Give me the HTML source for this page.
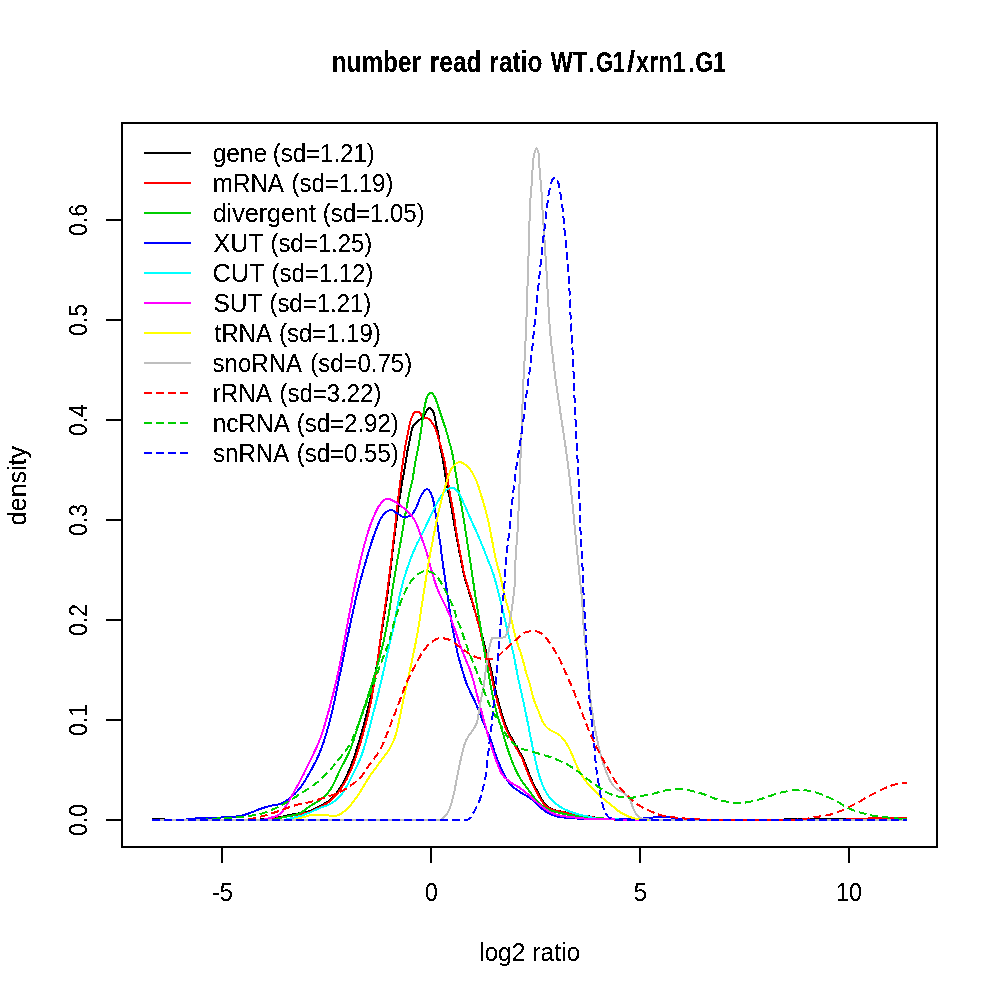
<!DOCTYPE html>
<html><head><meta charset="utf-8"><title>number read ratio WT.G1/xrn1.G1</title>
<style>
html,body{margin:0;padding:0;background:#fff;}
body{width:1000px;height:1000px;overflow:hidden;font-family:"Liberation Sans",sans-serif;}
svg{display:block;}
text{font-family:"Liberation Sans",sans-serif;fill:#000;}
</style></head><body>
<svg width="1000" height="1000" viewBox="0 0 1000 1000">
<defs><filter id="th" x="0" y="0" width="1000" height="1000" filterUnits="userSpaceOnUse" color-interpolation-filters="sRGB"><feComponentTransfer><feFuncA type="discrete" tableValues="0 0 0 0 0 0 0 0 0 1 1 1 1 1 1 1 1 1 1 1"/></feComponentTransfer></filter></defs>
<rect x="0" y="0" width="1000" height="1000" fill="#ffffff"/>

<g fill="none" stroke-width="2" stroke-linejoin="round" stroke-linecap="butt" shape-rendering="crispEdges">
<polyline points="152.0,819.0 153.5,819.0 155.0,819.0 156.5,819.0 158.0,819.0 159.5,819.0 161.0,819.0 162.5,819.2 164.0,819.4 165.5,819.6 167.0,819.8 168.5,819.9 170.0,820.0 171.5,820.0 173.0,820.0 174.5,820.0 176.0,820.0 177.5,820.0 179.0,820.0 180.5,820.0 182.0,820.0 183.5,820.0 185.0,820.0 186.5,820.0 188.0,820.0 189.5,820.0 191.0,820.0 192.5,820.0 194.0,820.0 195.5,820.0 197.0,820.0 198.5,820.0 200.0,820.0 201.5,820.0 203.0,820.0 204.5,820.0 206.0,820.0 207.5,820.0 209.0,820.0 210.5,820.0 212.0,820.0 213.5,820.0 215.1,820.0 216.6,820.0 218.1,820.0 219.6,820.0 221.1,820.0 222.6,820.0 224.1,820.0 225.6,820.0 227.1,820.0 228.6,820.0 230.1,820.0 231.6,820.0 233.1,820.0 234.6,820.0 236.1,820.0 237.6,820.0 239.1,820.0 240.6,820.0 242.1,820.0 243.6,820.0 245.1,820.0 246.6,820.0 248.1,820.0 249.6,820.0 251.1,820.0 252.6,820.0 254.1,819.9 255.6,819.8 257.1,819.8 258.6,819.7 260.1,819.5 261.6,819.4 263.1,819.2 264.6,819.1 266.1,818.9 267.6,818.7 269.1,818.5 270.6,818.3 272.1,818.1 273.6,817.9 275.0,817.7 276.5,817.5 278.0,817.3 279.5,817.1 281.0,816.9 282.5,816.6 283.9,816.3 285.4,816.0 286.9,815.7 288.3,815.3 289.8,815.0 291.3,814.7 292.8,814.4 294.2,814.2 295.7,813.9 297.2,813.6 298.7,813.3 300.1,813.0 301.6,812.7 303.1,812.4 304.6,812.2 306.1,811.9 307.6,811.6 309.0,811.3 310.4,810.9 311.8,810.4 313.2,809.8 314.5,809.1 315.9,808.4 317.2,807.6 318.5,806.8 319.8,806.1 321.1,805.4 322.5,804.7 323.8,804.0 325.2,803.2 326.5,802.4 327.7,801.7 329.0,800.8 330.1,799.9 331.2,799.0 332.3,797.9 333.3,796.8 334.3,795.7 335.3,794.5 336.3,793.3 337.2,792.1 338.1,790.9 338.9,789.6 339.8,788.4 340.6,787.1 341.3,785.9 342.1,784.6 342.8,783.3 343.5,782.0 344.3,780.6 344.9,779.3 345.6,777.9 346.3,776.6 346.9,775.2 347.5,773.8 348.1,772.4 348.7,771.0 349.3,769.6 349.9,768.3 350.5,766.9 351.0,765.5 351.5,764.1 352.1,762.7 352.6,761.3 353.1,759.9 353.6,758.5 354.1,757.0 354.6,755.6 355.0,754.2 355.5,752.7 356.0,751.3 356.4,749.9 356.9,748.4 357.3,747.0 357.7,745.6 358.2,744.1 358.6,742.7 359.0,741.2 359.5,739.8 359.9,738.3 360.3,736.9 360.7,735.5 361.2,734.0 361.6,732.6 362.0,731.1 362.4,729.7 362.8,728.2 363.2,726.8 363.6,725.4 364.0,723.9 364.4,722.4 364.8,721.0 365.2,719.5 365.6,718.1 365.9,716.6 366.3,715.2 366.7,713.7 367.1,712.3 367.4,710.8 367.8,709.3 368.1,707.9 368.5,706.4 368.8,705.0 369.2,703.5 369.5,702.0 369.9,700.6 370.2,699.1 370.5,697.7 370.9,696.2 371.2,694.7 371.5,693.3 371.8,691.8 372.1,690.3 372.4,688.8 372.7,687.4 373.0,685.9 373.3,684.4 373.6,682.9 373.9,681.5 374.2,680.0 374.5,678.5 374.7,677.0 375.0,675.6 375.3,674.1 375.5,672.6 375.8,671.1 376.1,669.6 376.3,668.2 376.6,666.7 376.8,665.2 377.0,663.7 377.3,662.2 377.5,660.8 377.7,659.3 378.0,657.8 378.2,656.3 378.4,654.8 378.6,653.3 378.8,651.8 379.1,650.4 379.3,648.9 379.5,647.4 379.7,645.9 379.9,644.4 380.1,642.9 380.3,641.4 380.6,639.9 380.8,638.5 381.0,637.0 381.2,635.5 381.4,634.0 381.6,632.5 381.8,631.0 382.1,629.5 382.3,628.0 382.5,626.6 382.7,625.1 383.0,623.6 383.2,622.1 383.4,620.6 383.7,619.1 383.9,617.7 384.1,616.2 384.4,614.7 384.6,613.2 384.8,611.7 385.0,610.2 385.3,608.7 385.5,607.3 385.7,605.8 386.0,604.3 386.2,602.8 386.4,601.3 386.6,599.8 386.8,598.3 387.0,596.9 387.3,595.4 387.5,593.9 387.7,592.4 387.9,590.9 388.1,589.4 388.3,587.9 388.5,586.4 388.7,585.0 388.8,583.5 389.0,582.0 389.2,580.5 389.4,579.0 389.6,577.5 389.8,576.0 389.9,574.5 390.1,573.0 390.3,571.5 390.5,570.0 390.6,568.5 390.8,567.1 391.0,565.6 391.1,564.1 391.3,562.6 391.5,561.1 391.7,559.6 391.8,558.1 392.0,556.6 392.2,555.1 392.3,553.6 392.5,552.1 392.7,550.6 392.9,549.1 393.1,547.7 393.2,546.2 393.4,544.7 393.6,543.2 393.8,541.7 394.0,540.2 394.2,538.7 394.4,537.2 394.5,535.7 394.7,534.2 394.9,532.7 395.1,531.3 395.3,529.8 395.5,528.3 395.7,526.8 395.9,525.3 396.1,523.8 396.3,522.3 396.5,520.8 396.7,519.3 396.9,517.9 397.1,516.4 397.3,514.9 397.5,513.4 397.7,511.9 397.9,510.4 398.1,508.9 398.4,507.4 398.6,505.9 398.8,504.5 399.0,503.0 399.2,501.5 399.4,500.0 399.6,498.5 399.8,497.0 400.1,495.5 400.3,494.1 400.5,492.6 400.7,491.1 401.0,489.6 401.2,488.1 401.4,486.6 401.6,485.1 401.9,483.7 402.1,482.2 402.4,480.7 402.6,479.2 402.9,477.7 403.2,476.3 403.5,474.8 403.8,473.3 404.0,471.8 404.3,470.4 404.5,468.9 404.8,467.4 405.0,465.9 405.3,464.4 405.5,462.9 405.8,461.5 406.0,460.0 406.2,458.5 406.5,457.0 406.7,455.5 407.0,454.0 407.2,452.6 407.4,451.1 407.7,449.6 408.0,448.1 408.3,446.7 408.6,445.2 408.9,443.7 409.3,442.3 409.6,440.8 409.9,439.3 410.2,437.9 410.5,436.4 410.7,434.9 411.0,433.4 411.3,431.9 411.6,430.4 412.0,429.0 412.5,427.6 413.2,426.2 414.0,425.0 414.9,423.8 416.0,422.8 417.1,421.8 418.3,420.8 419.5,419.8 420.7,418.9 421.9,418.0 423.0,417.0 423.8,415.8 424.6,414.5 425.3,413.2 426.1,411.9 426.9,410.4 427.8,408.9 428.8,408.0 430.0,408.3 431.3,409.3 432.3,410.4 433.1,411.7 433.7,413.1 434.2,414.6 434.5,416.0 434.8,417.5 435.1,419.0 435.4,420.5 435.7,421.9 436.0,423.4 436.3,424.9 436.6,426.3 437.0,427.8 437.3,429.3 437.6,430.7 437.9,432.2 438.2,433.7 438.5,435.2 438.8,436.6 439.0,438.1 439.2,439.6 439.4,441.1 439.6,442.6 439.7,444.1 439.9,445.6 440.2,447.0 440.5,448.5 440.8,450.0 441.2,451.4 441.5,452.9 441.9,454.4 442.2,455.8 442.4,457.3 442.7,458.8 442.9,460.3 443.2,461.8 443.4,463.3 443.6,464.7 443.9,466.2 444.1,467.7 444.3,469.2 444.6,470.7 444.8,472.2 445.0,473.7 445.2,475.1 445.5,476.6 445.7,478.1 445.9,479.6 446.2,481.1 446.5,482.5 446.7,484.0 447.0,485.5 447.3,487.0 447.6,488.4 447.9,489.9 448.2,491.4 448.6,492.8 448.9,494.3 449.2,495.8 449.5,497.3 449.8,498.7 450.0,500.2 450.3,501.7 450.6,503.2 450.9,504.6 451.1,506.1 451.4,507.6 451.6,509.1 451.9,510.6 452.2,512.0 452.4,513.5 452.7,515.0 452.9,516.5 453.2,518.0 453.4,519.4 453.7,520.9 453.9,522.4 454.2,523.9 454.5,525.4 454.7,526.8 455.0,528.3 455.2,529.8 455.5,531.3 455.8,532.8 456.0,534.2 456.3,535.7 456.6,537.2 456.9,538.7 457.2,540.1 457.4,541.6 457.7,543.1 458.0,544.6 458.3,546.0 458.6,547.5 458.9,549.0 459.1,550.5 459.4,551.9 459.7,553.4 460.0,554.9 460.3,556.4 460.6,557.8 460.9,559.3 461.2,560.8 461.4,562.3 461.7,563.8 462.0,565.2 462.2,566.7 462.5,568.2 462.8,569.7 463.1,571.1 463.4,572.6 463.8,574.1 464.1,575.5 464.5,577.0 464.9,578.4 465.3,579.8 465.8,581.3 466.2,582.7 466.6,584.2 467.1,585.6 467.5,587.0 467.9,588.5 468.4,589.9 468.8,591.4 469.3,592.8 469.7,594.2 470.2,595.7 470.6,597.1 471.1,598.5 471.5,600.0 471.9,601.4 472.4,602.8 472.8,604.3 473.2,605.7 473.7,607.2 474.1,608.6 474.5,610.0 474.9,611.5 475.4,612.9 475.8,614.4 476.2,615.8 476.7,617.2 477.1,618.7 477.6,620.1 478.0,621.5 478.4,623.0 478.9,624.4 479.3,625.9 479.7,627.3 480.1,628.7 480.6,630.2 481.0,631.6 481.4,633.1 481.8,634.5 482.1,636.0 482.5,637.4 482.9,638.9 483.3,640.3 483.7,641.8 484.1,643.2 484.4,644.7 484.8,646.2 485.2,647.6 485.5,649.1 485.9,650.5 486.2,652.0 486.6,653.5 487.0,654.9 487.4,656.4 487.8,657.8 488.2,659.2 488.6,660.7 489.1,662.1 489.5,663.6 489.9,665.0 490.3,666.4 490.7,667.9 491.1,669.4 491.4,670.8 491.8,672.3 492.1,673.7 492.4,675.2 492.7,676.7 493.0,678.2 493.3,679.6 493.5,681.1 493.8,682.6 494.1,684.1 494.4,685.5 494.7,687.0 495.1,688.5 495.4,689.9 495.7,691.4 496.1,692.9 496.4,694.3 496.8,695.8 497.2,697.2 497.6,698.7 497.9,700.1 498.3,701.6 498.7,703.0 499.1,704.5 499.5,705.9 499.9,707.4 500.4,708.8 500.8,710.3 501.2,711.7 501.6,713.1 502.1,714.6 502.5,716.0 503.0,717.5 503.4,718.9 503.9,720.3 504.4,721.8 504.9,723.2 505.4,724.6 505.9,726.0 506.4,727.4 507.0,728.8 507.6,730.1 508.3,731.5 508.9,732.8 509.6,734.2 510.3,735.5 511.0,736.8 511.8,738.2 512.5,739.5 513.2,740.8 513.9,742.1 514.7,743.4 515.4,744.7 516.2,746.0 517.0,747.3 517.7,748.6 518.4,749.9 519.2,751.2 519.9,752.5 520.7,753.8 521.4,755.1 522.2,756.5 522.8,757.8 523.5,759.1 524.1,760.5 524.6,761.9 525.2,763.3 525.7,764.7 526.2,766.1 526.7,767.6 527.2,769.0 527.8,770.4 528.3,771.8 528.9,773.2 529.4,774.6 530.0,776.0 530.6,777.3 531.2,778.7 531.8,780.1 532.4,781.5 533.0,782.8 533.7,784.2 534.4,785.5 535.0,786.9 535.7,788.2 536.4,789.5 537.1,790.9 537.8,792.2 538.5,793.5 539.2,794.9 539.9,796.2 540.6,797.6 541.3,798.9 542.1,800.2 543.0,801.4 543.8,802.6 544.8,803.8 545.8,804.9 546.9,806.0 548.1,807.0 549.3,807.8 550.6,808.4 551.9,809.0 553.4,809.6 554.8,810.1 556.3,810.5 557.7,810.9 559.2,811.2 560.7,811.5 562.1,811.8 563.6,812.1 565.1,812.4 566.6,812.7 568.0,812.9 569.5,813.2 571.0,813.5 572.5,813.8 574.0,814.1 575.4,814.3 576.9,814.6 578.4,814.8 579.9,815.1 581.4,815.3 582.9,815.5 584.3,815.7 585.8,815.9 587.3,816.1 588.8,816.4 590.3,816.6 591.8,816.8 593.2,817.1 594.7,817.4 596.2,817.8 597.7,818.0 599.1,818.3 600.6,818.5 602.1,818.6 603.6,818.7 605.1,818.8 606.6,818.9 608.1,819.0 609.6,819.1 611.1,819.2 612.6,819.2 614.1,819.3 615.6,819.4 617.1,819.5 618.6,819.5 620.1,819.6 621.6,819.6 623.1,819.7 624.6,819.8 626.1,819.8 627.6,819.8 629.1,819.9 630.6,819.9 632.1,819.9 633.6,820.0 635.1,820.0 636.7,820.0 638.2,820.0 639.7,820.0 641.2,820.0 642.7,820.0 644.2,820.0 645.7,820.0 647.2,820.0 648.7,820.0 650.2,820.0 651.7,820.0 653.2,820.0 654.7,820.0 656.2,820.0 657.7,820.0 659.2,820.0 660.7,820.0 662.2,820.0 663.7,820.0 665.2,820.0 666.7,820.0 668.2,820.0 669.7,820.0 671.2,820.0 672.7,820.0 674.2,820.0 675.7,820.0 677.2,820.0 678.7,820.0 680.3,820.0 681.8,820.0 683.3,820.0 684.8,820.0 686.3,820.0 687.8,820.0 689.3,820.0 690.8,820.0 692.3,820.0 693.8,820.0 695.3,820.0 696.8,820.0 698.3,820.0 699.8,820.0 701.3,820.0 702.8,820.0 704.3,820.0 705.8,820.0 707.3,820.0 708.8,820.0 710.3,820.0 711.8,820.0 713.4,820.0 714.9,820.0 716.4,820.0 717.9,820.0 719.4,820.0 720.9,820.0 722.4,820.0 723.9,820.0 725.4,820.0 726.9,820.0 728.4,820.0 729.9,820.0 731.4,820.0 732.9,820.0 734.4,820.0 735.9,820.0 737.4,820.0 738.9,820.0 740.4,820.0 741.9,820.0 743.4,820.0 744.9,820.0 746.4,820.0 747.9,820.0 749.4,820.0 750.9,820.0 752.4,820.0 753.9,820.0 755.4,820.0 756.9,820.0 758.4,820.0 759.9,820.0 761.4,820.0 762.9,820.0 764.4,820.0 765.9,820.0 767.4,820.0 768.9,820.0 770.4,820.0 771.9,820.0 773.4,820.0 774.9,820.0 776.4,820.0 777.9,820.0 779.4,820.0 780.9,820.0 782.4,819.8 783.8,819.5 785.3,819.3 786.8,819.1 788.3,819.0 789.8,819.0 791.3,819.0 792.8,819.0 794.3,819.0 795.8,819.0 797.3,819.0 798.8,819.0 800.3,819.0 801.8,819.0 803.3,819.0 804.8,819.0 806.3,819.0 807.8,819.0 809.3,819.0 810.8,819.0 812.3,819.0 813.7,819.0 815.2,819.0 816.7,819.0 818.2,819.0 819.7,819.0 821.2,819.0 822.7,819.0 824.2,819.0 825.7,819.0 827.2,819.0 828.7,819.0 830.2,819.0 831.7,819.0 833.2,819.0 834.7,819.0 836.2,819.0 837.7,819.0 839.2,819.0 840.7,819.0 842.2,819.0 843.7,819.0 845.2,819.0 846.7,819.0 848.2,819.0 849.7,819.0 851.2,819.0 852.7,819.0 854.2,819.0 855.7,819.0 857.2,819.0 858.7,819.0 860.2,819.0 861.8,819.0 863.3,819.0 864.8,819.0 866.3,819.0 867.8,819.0 869.3,819.0 870.8,819.0 872.3,819.0 873.8,819.0 875.3,819.0 876.8,819.0 878.3,819.0 879.8,819.0 881.3,819.0 882.8,819.0 884.3,819.0 885.8,819.0 887.4,819.0 888.9,819.0 890.4,819.0 891.9,819.0 893.4,819.0 894.9,819.0 896.4,819.0 897.9,819.0 899.4,819.0 901.0,819.0 902.5,819.0 904.0,819.0 905.5,819.0 907.0,819.0" stroke="#000000"/>
<polyline points="152.0,820.0 153.5,820.0 155.0,820.0 156.5,820.0 158.0,820.0 159.6,820.0 161.1,820.0 162.6,820.0 164.1,820.0 165.6,820.0 167.1,820.0 168.6,820.0 170.1,820.0 171.6,820.0 173.1,820.0 174.7,820.0 176.2,820.0 177.7,820.0 179.2,820.0 180.7,820.0 182.2,820.0 183.7,820.0 185.2,820.0 186.7,820.0 188.2,820.0 189.7,820.0 191.2,820.0 192.7,820.0 194.2,820.0 195.7,820.0 197.2,820.0 198.7,820.0 200.2,820.0 201.7,820.0 203.2,820.0 204.8,820.0 206.3,820.0 207.8,820.0 209.3,820.0 210.8,820.0 212.3,820.0 213.8,820.0 215.3,820.0 216.8,820.0 218.3,820.0 219.8,820.0 221.3,820.0 222.8,820.0 224.3,820.0 225.8,820.0 227.3,820.0 228.8,820.0 230.3,820.0 231.8,820.0 233.2,820.0 234.7,820.0 236.2,820.0 237.7,820.0 239.2,820.0 240.7,820.0 242.2,820.0 243.7,820.0 245.2,820.0 246.7,820.0 248.2,820.0 249.7,820.0 251.2,820.0 252.7,820.0 254.2,820.0 255.7,820.0 257.2,820.0 258.7,820.0 260.2,820.0 261.7,820.0 263.2,819.9 264.7,819.8 266.2,819.7 267.6,819.6 269.1,819.4 270.6,819.3 272.1,819.1 273.6,818.8 275.1,818.6 276.6,818.4 278.1,818.1 279.6,817.9 281.1,817.6 282.5,817.3 284.0,817.0 285.5,816.8 287.0,816.5 288.5,816.3 290.0,816.0 291.4,815.7 292.9,815.5 294.4,815.2 295.9,814.9 297.3,814.6 298.8,814.2 300.3,813.9 301.8,813.7 303.3,813.4 304.8,813.1 306.2,812.9 307.7,812.6 309.2,812.2 310.6,811.8 311.9,811.3 313.3,810.7 314.7,810.0 316.0,809.3 317.3,808.5 318.6,807.8 319.9,807.0 321.3,806.3 322.6,805.6 323.9,804.9 325.3,804.1 326.6,803.4 327.8,802.6 329.1,801.7 330.2,800.8 331.3,799.9 332.5,798.9 333.5,797.8 334.6,796.7 335.6,795.6 336.6,794.4 337.6,793.2 338.5,792.0 339.4,790.8 340.3,789.6 341.1,788.4 341.9,787.2 342.7,785.9 343.5,784.6 344.3,783.3 345.0,782.0 345.8,780.7 346.5,779.3 347.2,778.0 347.8,776.6 348.5,775.3 349.1,773.9 349.8,772.5 350.4,771.2 350.9,769.8 351.5,768.4 352.1,767.1 352.6,765.7 353.2,764.3 353.7,762.9 354.2,761.4 354.8,760.0 355.3,758.6 355.8,757.2 356.2,755.7 356.7,754.3 357.2,752.9 357.7,751.4 358.1,750.0 358.6,748.6 359.0,747.1 359.5,745.7 359.9,744.3 360.4,742.8 360.8,741.4 361.2,740.0 361.6,738.5 362.1,737.1 362.5,735.6 362.9,734.2 363.3,732.8 363.7,731.3 364.1,729.9 364.5,728.4 364.9,727.0 365.3,725.5 365.7,724.0 366.1,722.6 366.5,721.1 366.8,719.7 367.2,718.2 367.6,716.7 367.9,715.3 368.3,713.8 368.6,712.4 368.9,710.9 369.3,709.4 369.6,708.0 369.9,706.5 370.2,705.0 370.5,703.6 370.8,702.1 371.1,700.6 371.4,699.2 371.7,697.7 371.9,696.2 372.2,694.7 372.5,693.2 372.8,691.8 373.0,690.3 373.3,688.8 373.5,687.3 373.8,685.8 374.0,684.4 374.3,682.9 374.5,681.4 374.8,679.9 375.0,678.4 375.2,676.9 375.5,675.4 375.7,674.0 375.9,672.5 376.2,671.0 376.4,669.5 376.6,668.0 376.8,666.5 377.0,665.0 377.2,663.6 377.4,662.1 377.6,660.6 377.8,659.1 378.0,657.6 378.2,656.1 378.4,654.6 378.6,653.1 378.8,651.6 379.0,650.2 379.2,648.7 379.4,647.2 379.6,645.7 379.8,644.2 380.0,642.7 380.2,641.2 380.4,639.7 380.6,638.2 380.8,636.7 381.0,635.3 381.2,633.8 381.4,632.3 381.6,630.8 381.8,629.3 382.0,627.8 382.2,626.3 382.4,624.8 382.7,623.4 382.9,621.9 383.1,620.4 383.3,618.9 383.5,617.4 383.8,615.9 384.0,614.4 384.2,612.9 384.4,611.5 384.6,610.0 384.8,608.5 385.1,607.0 385.3,605.5 385.5,604.0 385.7,602.5 385.9,601.1 386.1,599.6 386.4,598.1 386.6,596.6 386.8,595.1 387.0,593.6 387.2,592.1 387.4,590.6 387.6,589.1 387.8,587.7 388.0,586.2 388.2,584.7 388.4,583.2 388.6,581.7 388.7,580.2 388.9,578.7 389.1,577.2 389.3,575.7 389.5,574.2 389.7,572.8 389.9,571.3 390.0,569.8 390.2,568.3 390.4,566.8 390.6,565.3 390.8,563.8 390.9,562.3 391.1,560.8 391.3,559.3 391.5,557.8 391.6,556.3 391.8,554.9 392.0,553.4 392.2,551.9 392.3,550.4 392.5,548.9 392.7,547.4 392.9,545.9 393.0,544.4 393.2,542.9 393.4,541.4 393.5,539.9 393.7,538.4 393.9,536.9 394.1,535.4 394.2,534.0 394.4,532.5 394.6,531.0 394.8,529.5 394.9,528.0 395.1,526.5 395.3,525.0 395.4,523.5 395.6,522.0 395.8,520.5 395.9,519.0 396.1,517.5 396.3,516.0 396.4,514.5 396.6,513.1 396.8,511.6 396.9,510.1 397.1,508.6 397.3,507.1 397.4,505.6 397.6,504.1 397.8,502.6 397.9,501.1 398.1,499.6 398.3,498.1 398.5,496.6 398.6,495.1 398.8,493.6 399.0,492.2 399.2,490.7 399.3,489.2 399.5,487.7 399.7,486.2 399.9,484.7 400.1,483.2 400.3,481.7 400.5,480.2 400.7,478.7 400.8,477.2 401.0,475.8 401.2,474.3 401.4,472.8 401.6,471.3 401.8,469.8 402.0,468.3 402.2,466.8 402.5,465.3 402.7,463.8 402.9,462.4 403.1,460.9 403.3,459.4 403.6,457.9 403.8,456.4 404.0,454.9 404.2,453.4 404.4,452.0 404.6,450.5 404.9,449.0 405.1,447.5 405.3,446.0 405.6,444.5 405.9,443.1 406.2,441.6 406.5,440.1 406.9,438.7 407.2,437.2 407.4,435.7 407.7,434.2 408.0,432.8 408.3,431.3 408.5,429.8 408.8,428.3 409.1,426.9 409.4,425.4 409.8,423.9 410.1,422.5 410.6,421.0 411.0,419.6 411.5,418.2 412.1,416.8 412.7,415.3 413.3,413.9 414.2,412.8 415.5,412.0 416.9,411.5 418.3,411.9 419.7,412.7 420.7,413.8 421.4,415.1 422.3,416.4 423.3,417.7 424.6,418.0 426.2,418.0 427.6,418.1 428.9,419.0 430.0,420.0 431.0,421.1 431.9,422.4 432.8,423.6 433.5,424.9 434.3,426.2 435.0,427.6 435.6,429.0 436.1,430.3 436.6,431.8 437.0,433.2 437.4,434.7 437.8,436.1 438.2,437.6 438.6,439.0 439.0,440.5 439.4,441.9 439.8,443.4 440.2,444.8 440.7,446.2 441.1,447.7 441.5,449.1 441.9,450.6 442.3,452.0 442.7,453.5 443.0,454.9 443.4,456.4 443.7,457.9 444.1,459.3 444.4,460.8 444.7,462.3 444.9,463.8 445.2,465.2 445.4,466.7 445.7,468.2 446.0,469.7 446.2,471.2 446.4,472.6 446.7,474.1 446.9,475.6 447.2,477.1 447.4,478.6 447.7,480.0 447.9,481.5 448.2,483.0 448.4,484.5 448.6,486.0 448.9,487.5 449.1,488.9 449.4,490.4 449.6,491.9 449.9,493.4 450.2,494.9 450.4,496.3 450.7,497.8 451.0,499.3 451.2,500.8 451.5,502.3 451.8,503.7 452.1,505.2 452.4,506.7 452.6,508.2 452.9,509.6 453.2,511.1 453.4,512.6 453.7,514.1 453.9,515.6 454.2,517.0 454.4,518.5 454.6,520.0 454.8,521.5 455.0,523.0 455.2,524.5 455.4,526.0 455.6,527.5 455.8,528.9 456.1,530.4 456.3,531.9 456.6,533.4 456.8,534.9 457.1,536.4 457.3,537.8 457.6,539.3 457.9,540.8 458.1,542.3 458.4,543.7 458.7,545.2 459.0,546.7 459.2,548.2 459.5,549.7 459.8,551.1 460.1,552.6 460.4,554.1 460.7,555.6 460.9,557.0 461.2,558.5 461.5,560.0 461.8,561.5 462.0,562.9 462.3,564.4 462.6,565.9 462.8,567.4 463.1,568.9 463.4,570.3 463.7,571.8 464.1,573.3 464.4,574.7 464.8,576.2 465.2,577.6 465.6,579.1 466.0,580.5 466.5,581.9 466.9,583.4 467.3,584.8 467.8,586.3 468.2,587.7 468.6,589.1 469.1,590.6 469.5,592.0 470.0,593.4 470.5,594.9 470.9,596.3 471.3,597.7 471.8,599.2 472.2,600.6 472.6,602.1 473.0,603.5 473.4,605.0 473.8,606.4 474.1,607.9 474.5,609.3 474.9,610.8 475.3,612.2 475.7,613.7 476.0,615.2 476.4,616.6 476.8,618.1 477.2,619.5 477.6,621.0 478.0,622.4 478.4,623.9 478.8,625.3 479.2,626.8 479.6,628.2 479.9,629.7 480.3,631.1 480.6,632.6 481.0,634.1 481.3,635.5 481.6,637.0 481.9,638.5 482.3,639.9 482.6,641.4 483.0,642.8 483.3,644.3 483.7,645.8 484.0,647.2 484.4,648.7 484.7,650.1 485.1,651.6 485.5,653.1 485.9,654.5 486.3,656.0 486.7,657.4 487.1,658.8 487.5,660.3 488.0,661.7 488.4,663.2 488.8,664.6 489.2,666.1 489.6,667.5 490.0,669.0 490.3,670.4 490.7,671.9 491.0,673.3 491.3,674.8 491.6,676.3 491.9,677.8 492.2,679.2 492.5,680.7 492.8,682.2 493.0,683.7 493.3,685.1 493.6,686.6 494.0,688.1 494.3,689.5 494.6,691.0 495.0,692.5 495.3,693.9 495.7,695.4 496.1,696.8 496.5,698.3 496.8,699.8 497.2,701.2 497.6,702.7 498.0,704.1 498.4,705.6 498.8,707.0 499.2,708.4 499.7,709.9 500.1,711.3 500.5,712.8 501.0,714.2 501.4,715.6 501.8,717.1 502.3,718.5 502.8,720.0 503.2,721.4 503.7,722.8 504.2,724.2 504.7,725.6 505.3,727.0 505.9,728.4 506.5,729.8 507.1,731.1 507.8,732.5 508.4,733.8 509.1,735.2 509.8,736.5 510.6,737.8 511.3,739.1 512.0,740.5 512.7,741.8 513.5,743.1 514.2,744.4 515.0,745.7 515.8,747.0 516.5,748.3 517.2,749.6 518.0,750.9 518.7,752.2 519.5,753.5 520.2,754.8 521.0,756.1 521.7,757.4 522.3,758.8 522.9,760.2 523.5,761.5 524.0,762.9 524.5,764.4 525.1,765.8 525.6,767.2 526.1,768.6 526.6,770.0 527.2,771.4 527.7,772.8 528.3,774.2 528.9,775.6 529.4,777.0 530.0,778.4 530.6,779.7 531.2,781.1 531.9,782.5 532.5,783.8 533.2,785.2 533.8,786.5 534.5,787.9 535.2,789.2 535.9,790.5 536.6,791.9 537.3,793.2 538.0,794.5 538.7,795.9 539.4,797.2 540.2,798.6 540.9,799.8 541.7,801.1 542.6,802.3 543.5,803.5 544.6,804.6 545.6,805.7 546.8,806.7 547.9,807.6 549.2,808.3 550.6,808.9 552.0,809.4 553.5,809.9 554.9,810.4 556.4,810.8 557.8,811.1 559.3,811.4 560.8,811.7 562.2,812.0 563.7,812.3 565.2,812.6 566.7,812.9 568.1,813.2 569.6,813.4 571.1,813.7 572.6,814.0 574.1,814.3 575.5,814.5 577.0,814.8 578.5,815.0 580.0,815.2 581.5,815.4 583.0,815.6 584.4,815.9 585.9,816.1 587.4,816.3 588.9,816.5 590.4,816.8 591.9,817.0 593.3,817.3 594.8,817.7 596.3,818.0 597.8,818.2 599.3,818.4 600.7,818.6 602.2,818.7 603.7,818.8 605.2,818.9 606.7,819.0 608.2,819.2 609.7,819.3 611.2,819.4 612.7,819.4 614.2,819.5 615.7,819.6 617.2,819.7 618.7,819.8 620.2,819.8 621.7,819.9 623.2,819.9 624.8,819.9 626.3,820.0 627.8,820.0 629.3,820.0 630.8,820.0 632.3,820.0 633.8,820.0 635.3,820.0 636.8,820.0 638.3,820.0 639.8,820.0 641.3,820.0 642.8,820.0 644.3,820.0 645.8,820.0 647.3,820.0 648.8,820.0 650.3,820.0 651.8,820.0 653.3,820.0 654.8,820.0 656.3,820.0 657.9,820.0 659.4,820.0 660.9,820.0 662.4,820.0 663.9,820.0 665.4,820.0 666.9,820.0 668.4,820.0 669.9,820.0 671.4,820.0 672.9,820.0 674.5,820.0 676.0,820.0 677.5,820.0 679.0,820.0 680.5,820.0 682.0,820.0 683.5,820.0 685.0,820.0 686.6,820.0 688.1,820.0 689.6,820.0 691.1,820.0 692.6,820.0 694.1,820.0 695.6,820.0 697.1,820.0 698.6,820.0 700.2,820.0 701.7,820.0 703.2,820.0 704.7,820.0 706.2,820.0 707.7,820.0 709.2,820.0 710.7,820.0 712.3,820.0 713.8,820.0 715.3,820.0 716.8,820.0 718.3,820.0 719.8,820.0 721.3,820.0 722.8,820.0 724.4,820.0 725.9,820.0 727.4,820.0 728.9,820.0 730.4,820.0 731.9,820.0 733.4,820.0 734.9,820.0 736.4,820.0 738.0,820.0 739.5,820.0 741.0,820.0 742.5,820.0 744.0,820.0 745.5,820.0 747.0,820.0 748.5,820.0 750.0,820.0 751.5,820.0 753.0,820.0 754.6,820.0 756.1,820.0 757.6,820.0 759.1,820.0 760.6,820.0 762.1,820.0 763.6,820.0 765.1,820.0 766.6,820.0 768.1,820.0 769.6,820.0 771.1,820.0 772.6,820.0 774.1,820.0 775.6,820.0 777.1,820.0 778.6,820.0 780.1,820.0 781.6,820.0 783.1,820.0 784.6,820.0 786.1,820.0 787.6,820.0 789.1,820.0 790.6,820.0 792.1,820.0 793.6,820.0 795.1,820.0 796.6,820.0 798.1,820.0 799.6,820.0 801.1,820.0 802.6,820.0 804.1,820.0 805.6,820.0 807.1,820.0 808.5,820.0 810.0,820.0 811.5,820.0 813.0,820.0 814.5,820.0 816.0,820.0 817.5,820.0 819.0,820.0 820.5,820.0 821.9,820.0 823.4,820.0 824.9,820.0 826.4,820.0 827.9,820.0 829.3,820.0 830.8,820.0 832.3,820.0 833.8,820.0 835.3,820.0 836.7,820.0 838.2,820.0 839.7,820.0 841.2,820.0 842.6,820.0 844.1,820.0 845.6,819.7 847.0,819.1 848.5,819.0 850.0,819.0 851.5,819.0 853.0,819.0 854.5,819.0 856.0,819.0 857.5,819.0 859.0,819.0 860.5,819.0 862.0,819.0 863.5,819.0 865.0,819.0 866.5,819.0 868.0,818.6 869.5,818.2 870.9,818.0 872.4,818.0 873.9,818.0 875.4,818.0 876.9,818.0 878.4,818.0 879.9,818.0 881.4,818.0 882.8,818.0 884.3,818.0 885.8,818.0 887.3,818.0 888.8,818.0 890.3,818.0 891.8,818.0 893.3,818.0 894.9,818.0 896.4,818.0 897.9,818.0 899.4,818.0 900.9,818.0 902.4,818.0 903.9,818.0 905.5,818.0 907.0,818.0" stroke="#ff0000"/>
<polyline points="152.0,820.0 153.5,820.0 155.1,820.0 156.6,820.0 158.1,820.0 159.6,820.0 161.2,820.0 162.7,820.0 164.2,820.0 165.7,820.0 167.2,820.0 168.8,820.0 170.3,820.0 171.8,820.0 173.3,820.0 174.8,820.0 176.3,820.0 177.9,820.0 179.4,820.0 180.9,820.0 182.4,820.0 183.9,820.0 185.4,820.0 186.9,820.0 188.4,820.0 190.0,820.0 191.5,820.0 193.0,820.0 194.5,820.0 196.0,820.0 197.5,820.0 199.0,820.0 200.5,820.0 202.0,820.0 203.5,820.0 205.0,820.0 206.5,820.0 208.0,820.0 209.5,820.0 211.0,820.0 212.5,820.0 214.0,820.0 215.5,820.0 217.0,820.0 218.5,820.0 220.0,820.0 221.5,820.0 223.0,820.0 224.5,820.0 226.0,820.0 227.5,820.0 229.0,820.0 230.5,820.0 232.0,820.0 233.5,820.0 234.9,820.0 236.4,820.0 237.9,820.0 239.4,820.0 240.9,820.0 242.4,820.0 243.9,820.0 245.4,820.0 246.9,820.0 248.4,820.0 249.8,820.0 251.3,820.0 252.8,820.0 254.3,820.0 255.8,820.0 257.3,820.0 258.8,820.0 260.2,820.0 261.7,820.0 263.2,820.0 264.7,820.0 266.2,820.0 267.7,820.0 269.1,820.0 270.6,820.0 272.1,819.8 273.6,819.6 275.1,819.3 276.5,818.9 278.0,818.5 279.5,818.1 280.9,817.8 282.4,817.5 283.9,817.2 285.4,816.9 286.9,816.6 288.4,816.3 289.9,815.9 291.4,815.6 292.9,815.2 294.3,814.9 295.7,814.5 297.2,814.0 298.5,813.6 299.9,813.0 301.2,812.5 302.4,811.7 303.7,810.9 304.9,809.9 306.1,809.0 307.3,808.0 308.5,807.1 309.7,806.2 311.0,805.4 312.3,804.6 313.6,803.9 315.0,803.1 316.3,802.4 317.6,801.6 318.8,800.8 320.0,800.0 321.2,799.1 322.3,798.1 323.5,797.1 324.6,796.1 325.7,795.0 326.8,793.9 327.8,792.8 328.8,791.6 329.7,790.5 330.5,789.3 331.3,788.1 332.0,786.8 332.8,785.5 333.5,784.2 334.1,782.8 334.8,781.5 335.4,780.1 336.0,778.7 336.6,777.3 337.3,775.9 337.9,774.5 338.5,773.1 339.1,771.8 339.8,770.4 340.5,769.1 341.2,767.7 341.9,766.4 342.6,765.0 343.3,763.7 344.0,762.4 344.7,761.1 345.4,759.7 346.1,758.4 346.8,757.0 347.4,755.7 348.1,754.3 348.7,753.0 349.3,751.6 349.9,750.3 350.5,748.9 351.0,747.5 351.5,746.1 352.0,744.7 352.5,743.3 353.0,741.8 353.5,740.4 354.0,739.0 354.4,737.6 354.9,736.1 355.4,734.7 355.8,733.3 356.3,731.8 356.7,730.4 357.2,728.9 357.6,727.5 358.0,726.1 358.5,724.6 359.0,723.2 359.4,721.8 359.9,720.3 360.4,718.9 360.8,717.5 361.3,716.1 361.8,714.6 362.3,713.2 362.8,711.8 363.2,710.4 363.7,709.0 364.2,707.5 364.7,706.1 365.2,704.7 365.7,703.3 366.1,701.8 366.6,700.4 367.1,699.0 367.6,697.6 368.0,696.1 368.5,694.7 369.0,693.3 369.4,691.9 369.9,690.4 370.3,689.0 370.8,687.6 371.2,686.1 371.7,684.7 372.1,683.3 372.5,681.8 373.0,680.4 373.4,678.9 373.9,677.5 374.3,676.1 374.7,674.6 375.2,673.2 375.6,671.8 376.0,670.3 376.5,668.9 376.9,667.4 377.3,666.0 377.7,664.5 378.1,663.1 378.5,661.6 378.9,660.2 379.3,658.8 379.7,657.3 380.0,655.8 380.4,654.4 380.8,652.9 381.1,651.5 381.5,650.0 381.9,648.6 382.2,647.1 382.6,645.6 382.9,644.2 383.3,642.7 383.6,641.3 383.9,639.8 384.3,638.3 384.6,636.9 384.9,635.4 385.2,633.9 385.5,632.4 385.8,631.0 386.1,629.5 386.4,628.0 386.6,626.6 386.9,625.1 387.2,623.6 387.4,622.1 387.7,620.6 387.9,619.2 388.2,617.7 388.4,616.2 388.7,614.7 388.9,613.2 389.1,611.8 389.4,610.3 389.6,608.8 389.8,607.3 390.0,605.8 390.3,604.3 390.5,602.8 390.7,601.4 390.9,599.9 391.1,598.4 391.4,596.9 391.6,595.4 391.8,593.9 392.0,592.4 392.3,591.0 392.5,589.5 392.7,588.0 393.0,586.5 393.2,585.0 393.4,583.5 393.7,582.0 393.9,580.6 394.2,579.1 394.4,577.6 394.7,576.1 394.9,574.6 395.2,573.2 395.4,571.7 395.7,570.2 395.9,568.7 396.2,567.2 396.4,565.8 396.7,564.3 396.9,562.8 397.2,561.3 397.4,559.8 397.7,558.4 398.0,556.9 398.2,555.4 398.5,553.9 398.7,552.4 399.0,551.0 399.3,549.5 399.5,548.0 399.8,546.5 400.0,545.0 400.3,543.6 400.6,542.1 400.8,540.6 401.1,539.1 401.4,537.7 401.6,536.2 401.9,534.7 402.1,533.2 402.4,531.7 402.7,530.3 402.9,528.8 403.2,527.3 403.4,525.8 403.7,524.3 403.9,522.9 404.2,521.4 404.4,519.9 404.7,518.4 404.9,516.9 405.2,515.4 405.4,514.0 405.7,512.5 406.0,511.0 406.2,509.5 406.5,508.0 406.7,506.6 407.0,505.1 407.3,503.6 407.6,502.1 407.8,500.7 408.1,499.2 408.4,497.7 408.7,496.2 409.0,494.8 409.3,493.3 409.6,491.8 409.9,490.4 410.3,488.9 410.6,487.4 411.0,486.0 411.4,484.5 411.8,483.1 412.2,481.6 412.5,480.2 412.7,478.7 413.0,477.2 413.2,475.7 413.4,474.2 413.6,472.8 413.9,471.3 414.1,469.8 414.3,468.3 414.5,466.8 414.8,465.3 415.0,463.9 415.3,462.4 415.6,460.9 415.9,459.4 416.1,457.9 416.4,456.5 416.7,455.0 417.0,453.5 417.3,452.0 417.6,450.6 417.9,449.1 418.1,447.6 418.4,446.2 418.7,444.7 419.0,443.2 419.2,441.7 419.5,440.2 419.7,438.7 419.9,437.3 420.1,435.8 420.4,434.3 420.6,432.8 420.8,431.3 421.0,429.8 421.3,428.4 421.5,426.9 421.7,425.4 421.9,423.9 422.2,422.4 422.4,420.9 422.6,419.4 422.8,418.0 423.1,416.5 423.3,415.0 423.5,413.5 423.8,412.0 424.0,410.5 424.2,409.1 424.5,407.6 424.8,406.1 425.1,404.6 425.4,403.1 425.7,401.6 426.1,400.1 426.5,398.6 427.0,397.2 427.5,396.0 428.4,394.6 429.5,393.3 430.7,392.5 431.8,392.8 433.0,394.0 433.9,395.4 434.6,396.6 435.2,398.0 435.8,399.4 436.3,400.9 436.8,402.3 437.3,403.7 437.8,405.2 438.2,406.6 438.7,408.0 439.2,409.4 439.6,410.9 440.1,412.3 440.6,413.7 441.1,415.2 441.5,416.6 442.0,418.0 442.5,419.4 443.0,420.9 443.4,422.3 443.9,423.7 444.4,425.1 444.9,426.5 445.4,428.0 445.8,429.4 446.2,430.8 446.7,432.3 447.1,433.7 447.5,435.2 447.8,436.6 448.2,438.1 448.6,439.5 449.0,441.0 449.4,442.4 449.8,443.9 450.2,445.3 450.7,446.8 451.1,448.2 451.4,449.7 451.8,451.1 452.1,452.6 452.4,454.0 452.7,455.5 453.0,457.0 453.2,458.5 453.5,460.0 453.7,461.4 454.0,462.9 454.2,464.4 454.5,465.9 454.7,467.4 455.0,468.8 455.2,470.3 455.5,471.8 455.7,473.3 456.0,474.8 456.2,476.3 456.5,477.7 456.7,479.2 456.9,480.7 457.2,482.2 457.4,483.7 457.7,485.1 457.9,486.6 458.2,488.1 458.5,489.6 458.7,491.1 459.0,492.5 459.3,494.0 459.5,495.5 459.8,497.0 460.1,498.4 460.4,499.9 460.6,501.4 460.9,502.9 461.2,504.4 461.4,505.8 461.7,507.3 462.0,508.8 462.2,510.3 462.5,511.8 462.7,513.2 463.0,514.7 463.2,516.2 463.5,517.7 463.7,519.2 463.9,520.6 464.2,522.1 464.4,523.6 464.6,525.1 464.9,526.6 465.1,528.1 465.3,529.5 465.5,531.0 465.8,532.5 466.0,534.0 466.2,535.5 466.5,537.0 466.7,538.5 466.9,539.9 467.1,541.4 467.4,542.9 467.6,544.4 467.8,545.9 468.1,547.4 468.3,548.8 468.5,550.3 468.7,551.8 469.0,553.3 469.2,554.8 469.4,556.3 469.7,557.7 469.9,559.2 470.1,560.7 470.3,562.2 470.6,563.7 470.8,565.2 471.0,566.7 471.2,568.1 471.4,569.6 471.7,571.1 471.9,572.6 472.1,574.1 472.3,575.6 472.6,577.1 472.8,578.5 473.0,580.0 473.2,581.5 473.4,583.0 473.7,584.5 473.9,586.0 474.1,587.5 474.3,588.9 474.5,590.4 474.8,591.9 475.0,593.4 475.2,594.9 475.4,596.4 475.7,597.8 475.9,599.3 476.1,600.8 476.4,602.3 476.6,603.8 476.9,605.3 477.1,606.7 477.3,608.2 477.6,609.7 477.9,611.2 478.1,612.7 478.4,614.1 478.6,615.6 478.9,617.1 479.1,618.6 479.3,620.1 479.6,621.6 479.8,623.0 480.1,624.5 480.3,626.0 480.6,627.5 480.8,629.0 481.1,630.4 481.3,631.9 481.6,633.4 481.8,634.9 482.1,636.4 482.3,637.8 482.5,639.3 482.8,640.8 483.0,642.3 483.2,643.8 483.4,645.3 483.7,646.8 483.9,648.2 484.1,649.7 484.4,651.2 484.6,652.7 484.9,654.2 485.1,655.6 485.4,657.1 485.7,658.6 486.0,660.1 486.3,661.5 486.6,663.0 486.9,664.5 487.2,666.0 487.5,667.4 487.8,668.9 488.1,670.4 488.3,671.9 488.6,673.3 488.8,674.8 489.0,676.3 489.3,677.8 489.5,679.3 489.8,680.7 490.0,682.2 490.3,683.7 490.6,685.2 490.9,686.7 491.2,688.1 491.5,689.6 491.7,691.1 492.0,692.5 492.3,694.0 492.7,695.5 493.0,697.0 493.3,698.4 493.6,699.9 493.9,701.4 494.3,702.8 494.6,704.3 495.0,705.8 495.3,707.2 495.7,708.7 496.0,710.1 496.4,711.6 496.8,713.0 497.2,714.5 497.6,715.9 498.1,717.3 498.5,718.8 498.9,720.2 499.4,721.6 499.8,723.1 500.3,724.5 500.8,725.9 501.2,727.4 501.6,728.8 502.1,730.3 502.5,731.7 502.9,733.1 503.3,734.6 503.8,736.0 504.2,737.5 504.6,738.9 505.0,740.4 505.4,741.8 505.9,743.2 506.3,744.7 506.7,746.1 507.2,747.5 507.7,749.0 508.1,750.4 508.6,751.8 509.1,753.2 509.6,754.7 510.1,756.1 510.6,757.5 511.1,758.9 511.7,760.3 512.2,761.7 512.8,763.1 513.4,764.5 513.9,765.9 514.5,767.2 515.2,768.6 515.8,770.0 516.4,771.3 517.1,772.7 517.8,774.0 518.5,775.3 519.2,776.7 520.0,778.0 520.7,779.2 521.5,780.5 522.4,781.7 523.2,783.0 524.1,784.2 525.0,785.4 525.9,786.6 526.8,787.8 527.7,789.0 528.6,790.2 529.5,791.4 530.5,792.6 531.4,793.8 532.3,795.0 533.2,796.3 534.1,797.5 535.0,798.7 536.0,799.9 537.0,801.0 538.0,802.1 539.0,803.1 540.1,804.1 541.3,805.0 542.5,805.9 543.7,806.8 545.1,807.6 546.4,808.3 547.7,809.0 549.1,809.6 550.5,810.2 551.8,810.7 553.2,811.1 554.7,811.6 556.1,812.0 557.6,812.4 559.0,812.8 560.5,813.1 562.0,813.4 563.5,813.8 565.0,814.1 566.5,814.4 567.9,814.6 569.4,814.9 570.9,815.2 572.4,815.4 573.9,815.6 575.3,815.9 576.8,816.1 578.3,816.3 579.8,816.5 581.3,816.7 582.8,816.9 584.3,817.1 585.8,817.2 587.3,817.4 588.8,817.5 590.3,817.6 591.8,817.7 593.3,817.8 594.8,817.9 596.3,818.0 597.8,818.1 599.2,818.2 600.7,818.3 602.2,818.4 603.7,818.5 605.2,818.6 606.7,818.6 608.2,818.7 609.7,818.8 611.2,818.9 612.7,819.0 614.2,819.0 615.7,819.1 617.2,819.2 618.7,819.2 620.3,819.3 621.8,819.4 623.3,819.4 624.8,819.5 626.3,819.6 627.8,819.6 629.3,819.7 630.8,819.7 632.3,819.7 633.8,819.8 635.3,819.8 636.8,819.9 638.3,819.9 639.8,819.9 641.3,819.9 642.8,820.0 644.3,820.0 645.8,820.0 647.3,820.0 648.8,820.0 650.3,820.0 651.8,820.0 653.3,820.0 654.8,820.0 656.3,820.0 657.8,820.0 659.3,820.0 660.8,820.0 662.3,820.0 663.8,820.0 665.3,820.0 666.8,820.0 668.3,820.0 669.8,820.0 671.3,820.0 672.8,820.0 674.3,820.0 675.8,820.0 677.4,820.0 678.9,820.0 680.4,820.0 681.9,820.0 683.4,820.0 684.9,820.0 686.4,820.0 687.9,820.0 689.4,820.0 690.9,820.0 692.4,820.0 693.9,820.0 695.4,820.0 696.9,820.0 698.4,820.0 699.9,820.0 701.5,820.0 703.0,820.0 704.5,820.0 706.0,820.0 707.5,820.0 709.0,820.0 710.5,820.0 712.0,820.0 713.5,820.0 715.0,820.0 716.5,820.0 718.0,820.0 719.5,820.0 721.1,820.0 722.6,820.0 724.1,820.0 725.6,820.0 727.1,820.0 728.6,820.0 730.1,820.0 731.6,820.0 733.1,820.0 734.6,820.0 736.1,820.0 737.6,820.0 739.1,820.0 740.7,820.0 742.2,820.0 743.7,820.0 745.2,820.0 746.7,820.0 748.2,820.0 749.7,820.0 751.2,820.0 752.7,820.0 754.2,820.0 755.7,820.0 757.2,820.0 758.8,820.0 760.3,820.0 761.8,820.0 763.3,820.0 764.8,820.0 766.3,820.0 767.8,820.0 769.3,820.0 770.8,820.0 772.3,820.0 773.8,820.0 775.3,820.0 776.8,820.0 778.3,820.0 779.9,820.0 781.4,820.0 782.9,820.0 784.4,820.0 785.9,820.0 787.4,820.0 788.9,820.0 790.4,820.0 791.9,820.0 793.4,820.0 794.9,820.0 796.4,820.0 797.9,820.0 799.4,820.0 800.9,820.0 802.4,820.0 803.9,820.0 805.4,820.0 806.9,820.0 808.4,820.0 809.9,820.0 811.4,820.0 812.9,820.0 814.5,820.0 816.0,820.0 817.5,820.0 819.0,820.0 820.5,820.0 822.0,820.0 823.5,820.0 825.0,820.0 826.5,820.0 828.0,820.0 829.5,820.0 831.0,820.0 832.5,820.0 834.0,820.0 835.5,820.0 837.0,820.0 838.4,820.0 839.9,820.0 841.4,820.0 842.9,820.0 844.4,820.0 845.9,820.0 847.4,820.0 848.9,820.0 850.4,820.0 851.9,820.0 853.4,820.0 854.9,820.0 856.4,820.0 857.9,820.0 859.4,820.0 860.9,820.0 862.4,820.0 863.9,820.0 865.4,820.0 866.8,820.0 868.3,820.0 869.8,820.0 871.3,820.0 872.8,820.0 874.3,820.0 875.8,820.0 877.3,820.0 878.8,820.0 880.2,820.0 881.7,820.0 883.2,820.0 884.7,820.0 886.2,820.0 887.7,820.0 889.2,820.0 890.6,820.0 892.1,820.0 893.6,820.0 895.1,820.0 896.6,820.0 898.0,819.6 899.5,819.2 901.0,819.0 902.5,819.0 904.0,819.0 905.5,819.0 907.0,819.0" stroke="#00cd00"/>
<polyline points="152.0,820.0 153.5,820.0 155.0,820.0 156.5,820.0 158.0,820.0 159.5,820.0 161.0,820.0 162.5,820.0 164.0,820.0 165.5,820.0 167.0,820.0 168.5,820.0 170.0,820.0 171.5,820.0 173.0,820.0 174.5,820.0 176.0,820.0 177.5,820.0 179.0,820.0 180.5,820.0 182.0,819.9 183.5,819.8 185.0,819.6 186.5,819.4 188.0,819.2 189.5,819.0 191.0,818.9 192.5,818.8 194.0,818.6 195.5,818.5 197.0,818.4 198.5,818.3 200.0,818.2 201.5,818.1 203.0,818.0 204.5,817.9 206.0,817.9 207.5,817.8 209.0,817.8 210.5,817.8 212.0,817.7 213.5,817.7 215.0,817.7 216.5,817.6 218.0,817.6 219.5,817.5 221.0,817.5 222.5,817.4 224.0,817.3 225.5,817.2 227.0,817.2 228.5,817.1 230.0,817.0 231.5,816.9 233.0,816.7 234.5,816.6 236.0,816.5 237.5,816.3 239.0,816.1 240.5,815.9 241.9,815.7 243.4,815.3 244.8,814.8 246.2,814.3 247.7,813.8 249.1,813.3 250.5,812.8 251.9,812.3 253.3,811.7 254.7,811.1 256.1,810.5 257.5,810.0 258.9,809.4 260.3,808.9 261.7,808.4 263.1,808.0 264.6,807.5 266.0,807.1 267.4,806.7 268.9,806.3 270.4,805.9 271.8,805.6 273.3,805.3 274.8,805.1 276.3,804.8 277.8,804.6 279.2,804.2 280.6,803.8 282.0,803.2 283.3,802.6 284.6,801.8 285.9,801.0 287.2,800.1 288.4,799.2 289.6,798.3 290.8,797.4 291.9,796.4 293.1,795.4 294.2,794.4 295.3,793.3 296.3,792.2 297.4,791.1 298.4,790.0 299.3,788.8 300.2,787.7 301.1,786.5 302.0,785.3 302.9,784.1 303.7,782.8 304.5,781.5 305.3,780.3 306.1,779.0 306.8,777.6 307.6,776.3 308.3,775.0 309.1,773.7 309.8,772.4 310.5,771.1 311.2,769.8 312.0,768.4 312.7,767.1 313.4,765.8 314.1,764.5 314.8,763.1 315.5,761.8 316.2,760.4 316.9,759.1 317.5,757.7 318.1,756.4 318.8,755.0 319.3,753.6 319.9,752.2 320.4,750.9 321.0,749.5 321.5,748.1 322.0,746.7 322.5,745.2 323.0,743.8 323.5,742.4 324.0,741.0 324.4,739.5 324.9,738.1 325.3,736.7 325.8,735.2 326.2,733.8 326.6,732.3 327.0,730.9 327.5,729.4 327.9,728.0 328.3,726.5 328.7,725.1 329.0,723.6 329.4,722.2 329.8,720.7 330.2,719.3 330.6,717.8 330.9,716.4 331.3,714.9 331.6,713.5 332.0,712.0 332.3,710.5 332.7,709.1 333.0,707.6 333.3,706.1 333.6,704.7 334.0,703.2 334.3,701.7 334.6,700.3 334.9,698.8 335.2,697.3 335.5,695.9 335.8,694.4 336.1,692.9 336.4,691.4 336.7,690.0 337.0,688.5 337.3,687.0 337.6,685.5 337.9,684.1 338.2,682.6 338.5,681.1 338.8,679.6 339.1,678.2 339.4,676.7 339.7,675.2 340.0,673.8 340.4,672.3 340.7,670.8 341.0,669.4 341.3,667.9 341.6,666.4 341.9,664.9 342.2,663.5 342.5,662.0 342.8,660.5 343.1,659.0 343.4,657.6 343.7,656.1 344.0,654.6 344.2,653.2 344.5,651.7 344.8,650.2 345.1,648.7 345.4,647.3 345.7,645.8 346.0,644.3 346.3,642.8 346.6,641.4 346.9,639.9 347.2,638.4 347.5,637.0 347.8,635.5 348.1,634.0 348.5,632.6 348.8,631.1 349.1,629.6 349.4,628.1 349.7,626.7 350.0,625.2 350.3,623.7 350.7,622.3 351.0,620.8 351.3,619.3 351.6,617.9 351.9,616.4 352.2,614.9 352.6,613.5 352.9,612.0 353.2,610.5 353.5,609.1 353.9,607.6 354.2,606.1 354.5,604.7 354.9,603.2 355.2,601.7 355.5,600.3 355.9,598.8 356.2,597.3 356.6,595.9 356.9,594.4 357.3,593.0 357.6,591.5 358.0,590.1 358.4,588.6 358.7,587.1 359.1,585.7 359.5,584.2 359.8,582.8 360.2,581.3 360.6,579.9 361.0,578.4 361.4,577.0 361.8,575.5 362.2,574.1 362.6,572.6 363.0,571.2 363.4,569.7 363.8,568.3 364.2,566.8 364.6,565.4 365.0,563.9 365.5,562.5 365.9,561.1 366.3,559.6 366.7,558.2 367.2,556.7 367.6,555.3 368.0,553.9 368.5,552.4 368.9,551.0 369.4,549.6 369.8,548.1 370.2,546.7 370.7,545.2 371.1,543.8 371.6,542.4 372.0,540.9 372.5,539.5 373.0,538.1 373.5,536.7 374.0,535.2 374.5,533.8 375.0,532.4 375.6,531.0 376.1,529.7 376.7,528.2 377.3,526.8 377.8,525.3 378.4,523.8 379.0,522.3 379.6,520.9 380.3,519.5 381.0,518.2 381.8,516.9 382.6,515.7 383.4,514.6 384.3,513.7 385.5,512.7 386.8,511.7 388.2,510.8 389.6,510.2 391.0,510.0 392.3,510.2 393.6,510.9 394.9,511.8 396.2,512.8 397.5,513.7 398.8,514.5 400.1,515.3 401.4,516.2 402.8,516.8 404.2,517.0 405.7,516.9 407.3,516.7 408.8,516.3 410.1,516.0 411.2,515.3 412.2,514.3 413.1,513.1 414.0,511.7 414.8,510.2 415.6,508.8 416.3,507.4 417.0,506.1 417.5,504.7 418.1,503.3 418.6,501.8 419.1,500.4 419.6,498.9 420.2,497.5 420.8,496.2 421.5,494.9 422.2,493.6 423.2,492.3 424.3,490.9 425.5,489.7 426.6,489.1 427.6,489.1 428.6,489.9 429.6,491.1 430.5,492.7 431.3,494.3 431.9,495.8 432.4,497.1 432.8,498.5 433.2,499.9 433.5,501.4 433.8,502.8 434.1,504.3 434.4,505.8 434.6,507.3 434.9,508.9 435.1,510.4 435.3,511.9 435.6,513.4 435.8,514.9 436.1,516.4 436.3,517.9 436.6,519.4 436.8,520.8 437.1,522.3 437.3,523.8 437.5,525.3 437.8,526.8 438.0,528.3 438.2,529.8 438.4,531.2 438.7,532.7 438.9,534.2 439.1,535.7 439.3,537.2 439.5,538.7 439.7,540.2 440.0,541.6 440.2,543.1 440.4,544.6 440.6,546.1 440.8,547.6 440.9,549.1 441.1,550.6 441.3,552.1 441.5,553.6 441.7,555.1 441.9,556.5 442.1,558.0 442.3,559.5 442.5,561.0 442.7,562.5 442.9,564.0 443.1,565.5 443.3,567.0 443.5,568.4 443.7,569.9 443.9,571.4 444.2,572.9 444.4,574.4 444.6,575.9 444.8,577.4 445.1,578.8 445.3,580.3 445.5,581.8 445.7,583.3 446.0,584.8 446.2,586.3 446.4,587.8 446.6,589.2 446.9,590.7 447.1,592.2 447.3,593.7 447.5,595.2 447.8,596.7 448.0,598.2 448.2,599.6 448.4,601.1 448.6,602.6 448.9,604.1 449.1,605.6 449.3,607.1 449.5,608.6 449.7,610.0 449.9,611.5 450.2,613.0 450.4,614.5 450.6,616.0 450.8,617.5 451.0,619.0 451.3,620.4 451.5,621.9 451.7,623.4 452.0,624.9 452.2,626.4 452.5,627.8 452.8,629.3 453.1,630.8 453.4,632.3 453.7,633.7 454.0,635.2 454.3,636.7 454.6,638.1 454.9,639.6 455.2,641.1 455.5,642.6 455.8,644.0 456.1,645.5 456.3,647.0 456.6,648.5 456.9,650.0 457.2,651.4 457.5,652.9 457.8,654.4 458.2,655.8 458.6,657.3 459.0,658.7 459.4,660.1 459.9,661.6 460.3,663.0 460.7,664.5 461.1,665.9 461.5,667.4 461.9,668.8 462.3,670.3 462.7,671.7 463.2,673.2 463.6,674.6 464.0,676.0 464.5,677.5 464.9,678.9 465.4,680.3 465.9,681.7 466.4,683.1 467.0,684.5 467.5,685.9 468.1,687.3 468.8,688.6 469.4,690.0 470.0,691.4 470.7,692.7 471.3,694.1 472.0,695.4 472.7,696.8 473.3,698.1 474.0,699.5 474.6,700.9 475.2,702.2 475.8,703.6 476.4,705.0 477.0,706.4 477.6,707.8 478.1,709.2 478.7,710.6 479.2,712.0 479.8,713.4 480.3,714.8 480.9,716.2 481.4,717.6 482.0,719.0 482.5,720.4 483.1,721.7 483.6,723.1 484.2,724.5 484.8,725.9 485.4,727.3 486.0,728.7 486.6,730.0 487.2,731.4 487.9,732.8 488.4,734.2 489.0,735.5 489.6,736.9 490.1,738.3 490.6,739.7 491.1,741.2 491.6,742.6 492.1,744.0 492.5,745.5 493.0,746.9 493.4,748.3 493.9,749.8 494.3,751.2 494.8,752.6 495.3,754.0 495.8,755.4 496.3,756.9 496.9,758.3 497.4,759.6 498.0,761.0 498.6,762.4 499.2,763.8 499.8,765.2 500.4,766.6 501.0,767.9 501.7,769.3 502.3,770.6 503.0,772.0 503.6,773.4 504.3,774.7 505.0,776.1 505.7,777.5 506.5,778.8 507.2,780.1 508.0,781.4 508.9,782.6 509.8,783.7 510.7,784.8 511.7,785.8 512.9,786.8 514.0,787.8 515.2,788.7 516.5,789.6 517.8,790.5 519.0,791.3 520.3,792.2 521.5,793.0 522.8,793.7 524.1,794.5 525.5,795.2 526.8,796.0 528.1,796.7 529.3,797.5 530.5,798.4 531.7,799.3 532.8,800.3 533.9,801.3 535.0,802.4 536.1,803.5 537.2,804.5 538.3,805.5 539.4,806.5 540.6,807.5 541.7,808.4 542.9,809.4 544.1,810.3 545.4,811.2 546.6,812.1 547.9,812.9 549.2,813.6 550.5,814.2 551.9,814.8 553.3,815.3 554.7,815.8 556.2,816.2 557.7,816.6 559.1,816.9 560.6,817.1 562.1,817.3 563.6,817.4 565.0,817.6 566.5,817.8 568.0,817.9 569.5,818.0 571.0,818.1 572.5,818.2 574.1,818.3 575.6,818.4 577.1,818.5 578.6,818.6 580.1,818.6 581.6,818.6 583.1,818.7 584.6,818.7 586.1,818.8 587.6,818.8 589.1,818.9 590.6,818.9 592.1,818.9 593.6,818.9 595.1,819.0 596.6,819.0 598.1,819.0 599.6,819.0 601.1,819.0 602.6,819.0 604.1,819.0 605.6,819.0 607.1,819.0 608.6,819.0 610.1,819.0 611.6,819.0 613.1,819.0 614.6,819.0 616.2,819.0 617.7,819.0 619.2,819.0 620.7,819.0 622.2,819.0 623.7,819.0 625.2,819.0 626.7,819.0 628.2,819.0 629.7,819.0 631.2,819.0 632.7,819.0 634.2,819.0 635.7,819.0 637.2,819.0 638.7,819.0 640.2,819.0 641.6,818.8 643.1,818.5 644.6,818.1 646.1,818.0 647.6,818.0 649.1,818.0 650.6,818.0 652.1,817.8 653.5,817.3 655.0,817.0 656.4,817.0 657.9,817.0 659.5,817.0 661.0,817.0 662.5,817.0 664.0,817.0 665.5,817.0 667.0,817.0 668.5,817.0 670.0,817.1 671.4,817.5 672.9,818.0 674.3,818.4 675.8,818.8 677.2,819.0 678.7,819.0 680.2,819.0 681.7,819.0 683.2,819.0 684.7,819.0 686.2,819.0 687.8,819.0 689.3,819.0 690.8,819.0 692.3,819.0 693.8,819.1 695.3,819.4 696.7,819.6 698.2,819.9 699.7,820.0 701.2,820.0 702.7,820.0 704.2,820.0 705.7,820.0 707.2,820.0 708.7,820.0 710.2,820.0 711.7,820.0 713.2,820.0 714.7,820.0 716.2,820.0 717.7,820.0 719.2,820.0 720.6,820.0 722.1,820.0 723.6,820.0 725.1,820.0 726.6,820.0 728.1,820.0 729.6,820.0 731.1,820.0 732.6,820.0 734.1,820.0 735.6,820.0 737.1,820.0 738.6,820.0 740.1,820.0 741.6,820.0 743.1,820.0 744.6,820.0 746.1,820.0 747.6,820.0 749.1,820.0 750.6,820.0 752.1,820.0 753.6,820.0 755.1,820.0 756.6,820.0 758.1,820.0 759.6,820.0 761.1,820.0 762.6,820.0 764.0,820.0 765.5,820.0 767.0,820.0 768.5,820.0 770.0,820.0 771.5,820.0 773.0,820.0 774.5,820.0 776.0,820.0 777.5,820.0 779.0,820.0 780.5,820.0 782.0,820.0 783.5,820.0 785.0,820.0 786.5,820.0 788.0,820.0 789.5,820.0 791.0,820.0 792.5,820.0 794.0,820.0 795.5,820.0 797.0,820.0 798.5,820.0 800.0,820.0 801.5,820.0 803.0,820.0 804.5,820.0 806.0,820.0 807.5,820.0 809.0,820.0 810.5,820.0 812.0,820.0 813.5,820.0 815.0,820.0 816.6,820.0 818.1,820.0 819.6,820.0 821.1,820.0 822.6,820.0 824.1,820.0 825.6,820.0 827.1,820.0 828.6,820.0 830.1,820.0 831.6,820.0 833.1,820.0 834.6,820.0 836.1,820.0 837.6,820.0 839.1,820.0 840.6,820.0 842.1,820.0 843.6,820.0 845.1,820.0 846.6,820.0 848.1,820.0 849.6,820.0 851.1,820.0 852.7,820.0 854.2,820.0 855.7,820.0 857.2,820.0 858.7,820.0 860.2,820.0 861.7,820.0 863.2,820.0 864.7,820.0 866.2,820.0 867.7,820.0 869.2,820.0 870.7,820.0 872.3,820.0 873.8,820.0 875.3,820.0 876.8,820.0 878.3,820.0 879.8,820.0 881.3,820.0 882.8,820.0 884.3,820.0 885.8,820.0 887.3,820.0 888.9,820.0 890.4,820.0 891.9,820.0 893.4,820.0 894.9,820.0 896.4,820.0 897.9,820.0 899.4,820.0 900.9,820.0 902.5,820.0 904.0,820.0 905.5,820.0 907.0,820.0" stroke="#0000ff"/>
<polyline points="152.0,820.0 153.5,820.0 155.1,820.0 156.6,820.0 158.1,820.0 159.6,820.0 161.2,820.0 162.7,820.0 164.2,820.0 165.7,820.0 167.2,820.0 168.8,820.0 170.3,820.0 171.8,820.0 173.3,820.0 174.8,820.0 176.4,820.0 177.9,820.0 179.4,820.0 180.9,820.0 182.4,820.0 183.9,820.0 185.4,820.0 187.0,820.0 188.5,820.0 190.0,820.0 191.5,820.0 193.0,820.0 194.5,820.0 196.0,820.0 197.5,820.0 199.0,820.0 200.5,820.0 202.0,820.0 203.5,820.0 205.1,820.0 206.6,820.0 208.1,820.0 209.6,820.0 211.1,820.0 212.6,820.0 214.1,820.0 215.6,820.0 217.1,820.0 218.6,820.0 220.1,820.0 221.6,820.0 223.1,820.0 224.6,820.0 226.1,820.0 227.6,820.0 229.1,820.0 230.6,820.0 232.1,820.0 233.6,820.0 235.1,820.0 236.5,820.0 238.0,820.0 239.5,820.0 241.0,820.0 242.5,820.0 244.0,820.0 245.5,820.0 247.0,820.0 248.5,820.0 250.0,820.0 251.5,820.0 253.0,820.0 254.5,820.0 255.9,820.0 257.4,820.0 258.9,820.0 260.4,820.0 261.9,820.0 263.4,820.0 264.9,820.0 266.4,820.0 267.8,820.0 269.3,820.0 270.8,820.0 272.3,820.0 273.8,820.0 275.3,820.0 276.8,820.0 278.2,820.0 279.7,820.0 281.2,820.0 282.7,819.9 284.2,819.7 285.7,819.5 287.2,819.3 288.7,819.0 290.1,818.6 291.6,818.3 293.1,817.9 294.6,817.5 296.0,817.1 297.5,816.7 298.9,816.3 300.4,815.9 301.8,815.5 303.2,815.0 304.6,814.5 306.0,814.0 307.4,813.4 308.8,812.9 310.2,812.3 311.6,811.7 312.9,811.0 314.3,810.4 315.7,809.8 317.1,809.2 318.5,808.6 319.9,808.0 321.3,807.5 322.7,807.0 324.1,806.5 325.6,805.9 327.0,805.4 328.4,804.8 329.7,804.2 331.0,803.5 332.2,802.7 333.5,801.8 334.7,800.9 335.9,799.9 337.1,798.9 338.2,797.9 339.3,796.9 340.3,795.8 341.3,794.7 342.2,793.6 343.0,792.4 343.9,791.2 344.7,789.9 345.4,788.6 346.2,787.3 346.9,785.9 347.6,784.6 348.4,783.2 349.0,781.9 349.7,780.5 350.4,779.1 351.1,777.8 351.8,776.4 352.5,775.1 353.2,773.8 353.8,772.4 354.5,771.1 355.2,769.7 355.9,768.4 356.5,767.0 357.2,765.6 357.8,764.3 358.4,762.9 359.0,761.5 359.6,760.1 360.2,758.8 360.7,757.4 361.3,756.0 361.8,754.6 362.3,753.2 362.8,751.8 363.2,750.3 363.7,748.9 364.1,747.5 364.6,746.0 365.0,744.6 365.4,743.2 365.8,741.7 366.2,740.3 366.6,738.8 367.0,737.4 367.4,735.9 367.8,734.4 368.2,733.0 368.5,731.5 368.9,730.1 369.3,728.6 369.7,727.1 370.0,725.7 370.4,724.2 370.8,722.8 371.2,721.3 371.5,719.9 371.9,718.4 372.3,716.9 372.7,715.5 373.1,714.0 373.4,712.6 373.8,711.1 374.2,709.7 374.6,708.2 374.9,706.8 375.3,705.3 375.7,703.8 376.0,702.4 376.4,700.9 376.8,699.5 377.1,698.0 377.5,696.6 377.8,695.1 378.2,693.6 378.6,692.2 378.9,690.7 379.3,689.3 379.6,687.8 380.0,686.3 380.3,684.9 380.7,683.4 381.0,681.9 381.4,680.5 381.7,679.0 382.0,677.6 382.4,676.1 382.7,674.6 383.0,673.2 383.4,671.7 383.7,670.2 384.0,668.8 384.4,667.3 384.7,665.8 385.0,664.4 385.3,662.9 385.6,661.4 386.0,660.0 386.3,658.5 386.6,657.0 386.9,655.6 387.3,654.1 387.6,652.6 387.9,651.2 388.2,649.7 388.6,648.2 388.9,646.8 389.3,645.3 389.6,643.8 389.9,642.4 390.3,640.9 390.6,639.4 391.0,638.0 391.4,636.5 391.8,635.1 392.1,633.6 392.5,632.2 392.8,630.7 393.2,629.2 393.5,627.8 393.8,626.3 394.1,624.8 394.4,623.3 394.7,621.9 394.9,620.4 395.2,618.9 395.5,617.4 395.8,616.0 396.0,614.5 396.3,613.0 396.5,611.5 396.8,610.0 397.1,608.5 397.3,607.1 397.6,605.6 397.9,604.1 398.2,602.6 398.5,601.2 398.8,599.7 399.1,598.2 399.4,596.8 399.7,595.3 400.0,593.8 400.4,592.4 400.7,590.9 401.1,589.5 401.5,588.0 401.8,586.5 402.2,585.1 402.6,583.6 403.0,582.2 403.4,580.7 403.8,579.3 404.3,577.8 404.7,576.4 405.1,575.0 405.6,573.5 406.0,572.1 406.5,570.6 406.9,569.2 407.4,567.8 407.9,566.4 408.4,565.0 408.9,563.5 409.4,562.1 409.9,560.7 410.4,559.3 411.0,557.9 411.5,556.5 412.1,555.1 412.7,553.7 413.2,552.3 413.8,550.9 414.4,549.6 415.0,548.2 415.6,546.8 416.2,545.4 416.9,544.1 417.5,542.7 418.2,541.4 418.9,540.0 419.6,538.7 420.2,537.4 420.9,536.0 421.6,534.7 422.3,533.4 423.0,532.0 423.7,530.7 424.3,529.3 425.0,528.0 425.6,526.6 426.2,525.2 426.9,523.9 427.5,522.5 428.1,521.1 428.8,519.8 429.4,518.4 430.0,517.1 430.7,515.7 431.3,514.4 432.0,513.0 432.7,511.7 433.3,510.3 434.0,508.9 434.7,507.6 435.3,506.2 436.0,504.9 436.7,503.6 437.4,502.2 438.2,500.9 438.9,499.6 439.7,498.4 440.6,497.1 441.4,495.8 442.3,494.5 443.2,493.2 444.2,492.0 445.2,490.9 446.3,490.0 447.4,489.3 448.8,488.6 450.3,488.0 451.8,487.6 453.1,487.7 454.4,488.3 455.7,489.4 456.8,490.6 457.8,491.8 458.7,492.9 459.5,494.1 460.2,495.4 460.8,496.8 461.5,498.2 462.1,499.6 462.7,501.0 463.3,502.4 463.9,503.8 464.6,505.2 465.2,506.6 465.8,507.9 466.4,509.3 467.0,510.7 467.6,512.0 468.2,513.4 468.8,514.8 469.4,516.2 470.0,517.6 470.6,518.9 471.3,520.3 471.9,521.7 472.5,523.1 473.1,524.4 473.7,525.8 474.3,527.2 474.9,528.5 475.6,529.9 476.2,531.3 476.8,532.7 477.4,534.0 478.0,535.4 478.6,536.8 479.2,538.2 479.8,539.5 480.4,540.9 481.0,542.3 481.5,543.7 482.1,545.1 482.7,546.5 483.2,547.9 483.8,549.3 484.3,550.7 484.9,552.1 485.4,553.5 486.0,554.9 486.5,556.3 487.1,557.7 487.6,559.1 488.2,560.5 488.7,561.9 489.3,563.3 489.9,564.6 490.4,566.0 491.0,567.4 491.5,568.8 492.0,570.3 492.5,571.7 493.0,573.1 493.5,574.5 493.9,575.9 494.4,577.4 494.8,578.8 495.2,580.3 495.6,581.7 496.0,583.2 496.4,584.6 496.8,586.1 497.1,587.5 497.5,589.0 497.9,590.4 498.3,591.9 498.6,593.4 499.0,594.8 499.4,596.3 499.7,597.7 500.1,599.2 500.4,600.7 500.8,602.1 501.1,603.6 501.5,605.0 501.8,606.5 502.2,608.0 502.5,609.4 502.9,610.9 503.2,612.4 503.6,613.8 503.9,615.3 504.2,616.7 504.6,618.2 504.9,619.7 505.3,621.1 505.6,622.6 505.9,624.1 506.3,625.5 506.6,627.0 507.0,628.5 507.3,629.9 507.6,631.4 508.0,632.8 508.3,634.3 508.7,635.8 509.1,637.2 509.4,638.7 509.8,640.1 510.2,641.6 510.6,643.0 511.0,644.5 511.4,645.9 511.8,647.4 512.2,648.8 512.6,650.3 512.9,651.7 513.3,653.2 513.6,654.7 513.9,656.1 514.2,657.6 514.5,659.1 514.8,660.6 515.0,662.0 515.3,663.5 515.6,665.0 515.9,666.5 516.2,667.9 516.5,669.4 516.8,670.9 517.1,672.4 517.4,673.8 517.6,675.3 517.9,676.8 518.2,678.3 518.5,679.7 518.8,681.2 519.1,682.7 519.5,684.1 519.8,685.6 520.1,687.1 520.4,688.5 520.8,690.0 521.1,691.5 521.4,692.9 521.8,694.4 522.1,695.9 522.4,697.3 522.7,698.8 523.1,700.3 523.4,701.7 523.7,703.2 524.0,704.7 524.3,706.2 524.7,707.6 525.0,709.1 525.3,710.6 525.6,712.0 525.9,713.5 526.2,715.0 526.5,716.4 526.8,717.9 527.1,719.4 527.4,720.9 527.7,722.3 528.0,723.8 528.3,725.3 528.6,726.8 528.9,728.2 529.1,729.7 529.4,731.2 529.7,732.7 530.0,734.1 530.3,735.6 530.6,737.1 530.9,738.6 531.2,740.0 531.5,741.5 531.7,743.0 532.0,744.5 532.3,745.9 532.6,747.4 532.9,748.9 533.2,750.4 533.5,751.8 533.8,753.3 534.2,754.8 534.5,756.2 534.8,757.7 535.1,759.2 535.5,760.6 535.8,762.1 536.1,763.6 536.5,765.1 536.8,766.5 537.2,768.0 537.5,769.4 537.9,770.9 538.3,772.4 538.7,773.8 539.1,775.2 539.6,776.7 540.0,778.1 540.5,779.5 541.0,780.9 541.5,782.3 542.1,783.8 542.6,785.2 543.3,786.6 543.9,787.9 544.5,789.3 545.2,790.6 545.9,791.9 546.7,793.2 547.5,794.4 548.4,795.7 549.3,796.9 550.3,798.1 551.3,799.2 552.3,800.3 553.4,801.4 554.4,802.4 555.5,803.4 556.7,804.3 557.9,805.2 559.2,806.1 560.4,807.0 561.7,807.8 563.0,808.5 564.4,809.2 565.7,809.8 567.1,810.4 568.5,811.0 569.9,811.6 571.3,812.1 572.7,812.6 574.2,813.0 575.6,813.5 577.0,813.9 578.5,814.3 579.9,814.7 581.4,815.0 582.8,815.4 584.3,815.7 585.8,816.1 587.3,816.4 588.7,816.7 590.2,817.0 591.7,817.4 593.1,817.8 594.6,818.2 596.1,818.5 597.5,818.8 599.0,819.0 600.5,819.0 602.0,819.0 603.5,819.0 605.0,819.0 606.5,819.0 608.0,819.0 609.5,819.0 611.0,819.0 612.5,819.0 614.0,819.0 615.5,819.0 617.0,819.2 618.5,819.5 620.0,819.8 621.5,820.0 623.0,820.0 624.5,820.0 626.0,820.0 627.5,820.0 629.0,820.0 630.4,820.0 631.9,820.0 633.4,820.0 634.9,820.0 636.4,820.0 637.9,820.0 639.4,820.0 640.9,820.0 642.4,820.0 643.9,820.0 645.4,820.0 646.9,820.0 648.4,820.0 649.9,820.0 651.4,820.0 652.8,820.0 654.3,820.0 655.8,820.0 657.3,820.0 658.8,820.0 660.3,820.0 661.8,820.0 663.3,820.0 664.8,820.0 666.3,820.0 667.8,820.0 669.3,820.0 670.8,820.0 672.3,820.0 673.8,820.0 675.3,820.0 676.8,820.0 678.3,820.0 679.8,820.0 681.2,820.0 682.7,820.0 684.2,820.0 685.7,820.0 687.2,820.0 688.7,820.0 690.2,820.0 691.7,820.0 693.2,820.0 694.7,820.0 696.2,820.0 697.7,820.0 699.2,820.0 700.7,820.0 702.2,820.0 703.7,820.0 705.2,820.0 706.7,820.0 708.2,820.0 709.7,820.0 711.2,820.0 712.7,820.0 714.2,820.0 715.7,820.0 717.2,820.0 718.7,820.0 720.2,820.0 721.7,820.0 723.2,820.0 724.7,820.0 726.2,820.0 727.7,820.0 729.2,820.0 730.7,820.0 732.2,820.0 733.7,820.0 735.2,820.0 736.6,820.0 738.1,820.0 739.6,820.0 741.1,820.0 742.6,820.0 744.1,820.0 745.6,820.0 747.1,820.0 748.6,820.0 750.1,820.0 751.6,820.0 753.1,820.0 754.6,820.0 756.2,820.0 757.7,820.0 759.2,820.0 760.7,820.0 762.2,820.0 763.7,820.0 765.2,820.0 766.7,820.0 768.2,820.0 769.7,820.0 771.2,820.0 772.7,820.0 774.2,820.0 775.7,820.0 777.2,820.0 778.7,820.0 780.2,820.0 781.7,820.0 783.2,820.0 784.7,820.0 786.2,820.0 787.7,820.0 789.2,820.0 790.7,820.0 792.2,820.0 793.7,820.0 795.2,820.0 796.7,820.0 798.2,820.0 799.7,820.0 801.2,820.0 802.7,820.0 804.2,820.0 805.8,820.0 807.3,820.0 808.8,820.0 810.3,820.0 811.8,820.0 813.3,820.0 814.8,820.0 816.3,820.0 817.8,820.0 819.3,820.0 820.8,820.0 822.3,820.0 823.8,820.0 825.3,820.0 826.8,820.0 828.4,820.0 829.9,820.0 831.4,820.0 832.9,820.0 834.4,820.0 835.9,820.0 837.4,820.0 838.9,820.0 840.4,820.0 841.9,820.0 843.4,820.0 844.9,820.0 846.5,820.0 848.0,820.0 849.5,820.0 851.0,820.0 852.5,820.0 854.0,820.0 855.5,820.0 857.0,820.0 858.5,820.0 860.1,820.0 861.6,820.0 863.1,820.0 864.6,820.0 866.1,820.0 867.6,820.0 869.1,820.0 870.6,820.0 872.2,820.0 873.7,820.0 875.2,820.0 876.7,820.0 878.2,820.0 879.7,820.0 881.2,820.0 882.7,820.0 884.3,820.0 885.8,820.0 887.3,820.0 888.8,820.0 890.3,820.0 891.8,820.0 893.4,820.0 894.9,820.0 896.4,820.0 897.9,820.0 899.4,820.0 900.9,820.0 902.4,820.0 904.0,820.0 905.5,820.0 907.0,820.0" stroke="#00ffff"/>
<polyline points="152.0,820.0 153.5,820.0 155.1,820.0 156.6,820.0 158.1,820.0 159.6,820.0 161.2,820.0 162.7,820.0 164.2,820.0 165.7,820.0 167.2,820.0 168.8,820.0 170.3,820.0 171.8,820.0 173.3,820.0 174.8,820.0 176.4,820.0 177.9,820.0 179.4,820.0 180.9,820.0 182.4,820.0 183.9,820.0 185.4,820.0 186.9,820.0 188.4,820.0 190.0,820.0 191.5,820.0 193.0,820.0 194.5,820.0 196.0,820.0 197.5,820.0 199.0,820.0 200.5,820.0 202.0,820.0 203.5,820.0 205.0,820.0 206.5,820.0 208.0,820.0 209.5,820.0 211.0,820.0 212.5,820.0 214.0,820.0 215.5,820.0 217.0,820.0 218.5,820.0 220.0,820.0 221.5,820.0 223.0,820.0 224.5,820.0 226.0,820.0 227.5,820.0 228.9,820.0 230.4,820.0 231.9,820.0 233.4,820.0 234.9,820.0 236.4,820.0 237.9,820.0 239.4,820.0 240.9,820.0 242.4,820.0 243.8,820.0 245.3,820.0 246.8,820.0 248.3,820.0 249.8,820.0 251.3,820.0 252.8,820.0 254.3,820.0 255.7,820.0 257.2,820.0 258.7,820.0 260.2,820.0 261.7,819.9 263.2,819.7 264.6,819.4 266.1,819.1 267.6,818.7 269.1,818.3 270.5,817.9 272.0,817.4 273.5,817.0 274.9,816.5 276.4,815.9 277.8,815.3 279.0,814.6 280.2,813.9 281.2,812.9 282.2,811.8 283.1,810.6 284.0,809.3 284.8,807.9 285.6,806.6 286.4,805.3 287.2,804.1 287.9,802.8 288.7,801.4 289.4,800.1 290.1,798.8 290.9,797.5 291.6,796.2 292.3,794.9 293.1,793.6 293.8,792.3 294.6,790.9 295.3,789.6 296.0,788.3 296.7,787.0 297.5,785.7 298.2,784.4 298.9,783.1 299.6,781.7 300.3,780.4 301.0,779.1 301.7,777.7 302.4,776.4 303.1,775.1 303.8,773.7 304.4,772.4 305.1,771.0 305.8,769.7 306.4,768.3 307.1,767.0 307.8,765.6 308.4,764.3 309.1,762.9 309.7,761.6 310.4,760.2 311.0,758.9 311.7,757.5 312.3,756.2 313.0,754.8 313.7,753.5 314.3,752.1 315.0,750.7 315.6,749.4 316.2,748.0 316.9,746.6 317.5,745.3 318.1,743.9 318.6,742.5 319.2,741.1 319.7,739.7 320.3,738.3 320.8,736.9 321.3,735.5 321.7,734.1 322.2,732.7 322.7,731.2 323.2,729.8 323.6,728.4 324.1,726.9 324.5,725.5 324.9,724.1 325.4,722.6 325.8,721.2 326.2,719.7 326.6,718.3 327.0,716.8 327.4,715.4 327.9,713.9 328.3,712.5 328.6,711.0 329.0,709.6 329.4,708.1 329.8,706.7 330.2,705.2 330.6,703.8 331.0,702.3 331.4,700.9 331.7,699.4 332.1,698.0 332.5,696.5 332.9,695.0 333.2,693.6 333.6,692.1 333.9,690.7 334.3,689.2 334.7,687.7 335.0,686.3 335.4,684.8 335.7,683.4 336.0,681.9 336.4,680.4 336.7,679.0 337.1,677.5 337.4,676.0 337.7,674.6 338.0,673.1 338.4,671.6 338.7,670.2 339.0,668.7 339.3,667.2 339.6,665.8 339.9,664.3 340.2,662.8 340.5,661.3 340.8,659.9 341.1,658.4 341.4,656.9 341.7,655.4 342.0,654.0 342.3,652.5 342.5,651.0 342.8,649.5 343.1,648.1 343.3,646.6 343.6,645.1 343.9,643.6 344.1,642.1 344.4,640.7 344.7,639.2 344.9,637.7 345.2,636.2 345.5,634.7 345.8,633.3 346.0,631.8 346.3,630.3 346.6,628.8 346.9,627.4 347.1,625.9 347.4,624.4 347.7,622.9 348.0,621.4 348.2,620.0 348.5,618.5 348.8,617.0 349.1,615.5 349.3,614.1 349.6,612.6 349.9,611.1 350.2,609.6 350.4,608.2 350.7,606.7 351.0,605.2 351.3,603.7 351.6,602.2 351.9,600.8 352.1,599.3 352.4,597.8 352.7,596.3 353.0,594.9 353.3,593.4 353.6,591.9 353.9,590.5 354.2,589.0 354.5,587.5 354.8,586.0 355.1,584.6 355.4,583.1 355.7,581.6 356.0,580.2 356.4,578.7 356.7,577.2 357.0,575.7 357.3,574.3 357.6,572.8 357.9,571.3 358.3,569.9 358.6,568.4 358.9,566.9 359.3,565.5 359.6,564.0 359.9,562.5 360.3,561.1 360.6,559.6 361.0,558.2 361.3,556.7 361.7,555.2 362.1,553.8 362.4,552.3 362.8,550.9 363.2,549.4 363.5,548.0 363.9,546.5 364.3,545.0 364.7,543.6 365.1,542.1 365.5,540.7 365.9,539.2 366.3,537.8 366.7,536.3 367.2,534.9 367.6,533.5 368.0,532.0 368.5,530.6 368.9,529.2 369.4,527.7 369.9,526.3 370.4,524.9 370.9,523.5 371.4,522.1 372.0,520.7 372.6,519.3 373.2,517.9 373.8,516.6 374.4,515.2 375.0,513.8 375.6,512.4 376.2,511.1 376.9,509.7 377.6,508.4 378.3,507.1 379.1,505.8 380.0,504.6 380.9,503.3 381.8,502.2 382.9,501.1 384.0,500.2 385.3,499.4 386.7,498.8 388.2,498.8 389.7,499.2 391.1,499.7 392.4,500.4 393.8,501.1 395.1,501.8 396.4,502.6 397.6,503.4 398.8,504.3 400.0,505.2 401.2,506.2 402.4,507.1 403.6,508.0 404.8,508.9 405.9,509.9 407.0,510.9 408.2,511.9 409.3,513.0 410.3,514.0 411.2,515.2 412.1,516.4 413.0,517.6 413.8,518.9 414.5,520.2 415.3,521.6 415.9,522.9 416.6,524.2 417.2,525.6 417.8,527.0 418.3,528.4 418.8,529.8 419.3,531.2 419.8,532.6 420.3,534.1 420.8,535.5 421.3,536.9 421.8,538.4 422.3,539.8 422.8,541.2 423.3,542.6 423.8,544.0 424.3,545.5 424.8,546.9 425.2,548.3 425.7,549.7 426.2,551.2 426.6,552.6 427.1,554.0 427.5,555.5 427.9,556.9 428.3,558.4 428.7,559.8 429.0,561.3 429.4,562.7 429.8,564.2 430.2,565.6 430.6,567.1 431.0,568.5 431.4,570.0 431.8,571.4 432.2,572.9 432.6,574.3 433.0,575.8 433.5,577.2 433.9,578.6 434.4,580.1 434.8,581.5 435.3,582.9 435.8,584.3 436.3,585.8 436.8,587.2 437.4,588.6 437.9,590.0 438.5,591.4 439.0,592.8 439.6,594.1 440.2,595.5 440.9,596.9 441.5,598.2 442.2,599.6 442.9,600.9 443.6,602.2 444.3,603.6 445.0,604.9 445.6,606.3 446.3,607.6 446.9,609.0 447.5,610.4 448.2,611.7 448.8,613.1 449.4,614.5 449.9,615.9 450.5,617.2 451.0,618.7 451.6,620.1 452.1,621.5 452.6,622.9 453.1,624.3 453.5,625.7 454.0,627.2 454.5,628.6 455.0,630.0 455.5,631.4 456.0,632.9 456.4,634.3 456.9,635.7 457.4,637.1 457.8,638.6 458.3,640.0 458.8,641.4 459.2,642.8 459.7,644.3 460.2,645.7 460.8,647.1 461.3,648.5 461.8,649.9 462.4,651.3 462.9,652.7 463.5,654.1 464.0,655.5 464.6,656.9 465.1,658.3 465.7,659.7 466.3,661.1 466.9,662.4 467.5,663.8 468.1,665.2 468.7,666.6 469.3,668.0 469.8,669.4 470.3,670.8 470.7,672.2 471.2,673.6 471.7,675.1 472.1,676.5 472.5,677.9 472.9,679.4 473.4,680.8 473.8,682.3 474.2,683.7 474.5,685.2 474.9,686.6 475.3,688.1 475.7,689.5 476.1,691.0 476.4,692.5 476.8,693.9 477.2,695.4 477.6,696.8 477.9,698.3 478.3,699.7 478.7,701.2 479.1,702.7 479.5,704.1 479.9,705.6 480.3,707.0 480.7,708.5 481.1,709.9 481.5,711.4 481.9,712.8 482.3,714.3 482.6,715.7 483.0,717.2 483.4,718.6 483.8,720.1 484.2,721.5 484.6,723.0 485.0,724.4 485.4,725.9 485.8,727.3 486.2,728.8 486.6,730.2 487.0,731.7 487.4,733.1 487.8,734.6 488.2,736.0 488.6,737.4 489.1,738.9 489.5,740.3 489.9,741.8 490.4,743.2 490.8,744.6 491.3,746.1 491.7,747.5 492.2,748.9 492.6,750.4 493.1,751.8 493.6,753.2 494.1,754.6 494.6,756.1 495.1,757.5 495.6,758.9 496.1,760.3 496.6,761.7 497.2,763.1 497.7,764.6 498.2,766.0 498.8,767.5 499.4,768.9 500.0,770.2 500.6,771.6 501.3,772.9 502.1,774.1 502.9,775.3 503.8,776.4 504.9,777.5 506.0,778.6 507.1,779.6 508.3,780.6 509.5,781.6 510.6,782.5 511.9,783.3 513.2,784.1 514.5,784.8 515.8,785.5 517.1,786.3 518.5,787.0 519.7,787.8 521.0,788.7 522.2,789.6 523.3,790.5 524.5,791.4 525.7,792.4 526.8,793.3 528.0,794.3 529.1,795.3 530.3,796.2 531.4,797.2 532.5,798.3 533.6,799.3 534.7,800.3 535.8,801.4 536.9,802.4 538.0,803.4 539.2,804.3 540.4,805.3 541.5,806.2 542.7,807.2 543.9,808.1 545.1,809.0 546.4,809.9 547.6,810.7 548.9,811.4 550.2,812.1 551.6,812.7 553.0,813.3 554.4,813.9 555.8,814.4 557.3,814.9 558.7,815.3 560.2,815.6 561.6,815.9 563.1,816.1 564.6,816.3 566.0,816.5 567.5,816.7 569.0,816.9 570.5,817.1 572.0,817.2 573.5,817.4 575.0,817.5 576.6,817.6 578.1,817.8 579.6,818.0 581.0,818.1 582.5,818.3 584.0,818.5 585.5,818.7 587.0,818.9 588.5,819.0 590.0,819.0 591.5,819.0 593.0,819.0 594.5,819.0 596.0,819.0 597.5,819.0 599.0,819.0 600.6,819.0 602.1,819.0 603.6,819.0 605.1,819.0 606.6,819.0 608.1,819.0 609.6,819.0 611.1,819.0 612.6,819.0 614.0,819.3 615.5,819.6 617.0,819.9 618.5,820.0 620.0,820.0 621.5,820.0 623.0,820.0 624.4,820.0 625.9,820.0 627.4,820.0 628.9,820.0 630.4,820.0 631.9,820.0 633.4,820.0 634.9,820.0 636.4,820.0 637.8,820.0 639.3,820.0 640.8,820.0 642.3,820.0 643.8,820.0 645.3,820.0 646.8,820.0 648.3,820.0 649.8,820.0 651.3,820.0 652.8,820.0 654.2,820.0 655.7,820.0 657.2,820.0 658.7,820.0 660.2,820.0 661.7,820.0 663.2,820.0 664.7,820.0 666.2,820.0 667.7,820.0 669.2,820.0 670.7,820.0 672.1,820.0 673.6,820.0 675.1,820.0 676.6,820.0 678.1,820.0 679.6,820.0 681.1,820.0 682.6,820.0 684.1,820.0 685.6,820.0 687.1,820.0 688.6,820.0 690.1,820.0 691.6,820.0 693.1,820.0 694.5,820.0 696.0,820.0 697.5,820.0 699.0,820.0 700.5,820.0 702.0,820.0 703.5,820.0 705.0,820.0 706.5,820.0 708.0,820.0 709.5,820.0 711.0,820.0 712.5,820.0 714.0,820.0 715.5,820.0 717.0,820.0 718.5,820.0 720.0,820.0 721.5,820.0 723.0,820.0 724.5,820.0 726.0,820.0 727.5,820.0 729.0,820.0 730.5,820.0 731.9,820.0 733.4,820.0 734.9,820.0 736.4,820.0 737.9,820.0 739.4,820.0 740.9,820.0 742.4,820.0 743.9,820.0 745.4,820.0 746.9,820.0 748.4,820.0 749.9,820.0 751.4,820.0 752.9,820.0 754.4,820.0 755.9,820.0 757.4,820.0 758.9,820.0 760.4,820.0 761.9,820.0 763.4,820.0 764.9,820.0 766.4,820.0 767.9,820.0 769.4,820.0 770.9,820.0 772.4,820.0 774.0,820.0 775.5,820.0 777.0,820.0 778.5,820.0 780.0,820.0 781.5,820.0 783.0,820.0 784.5,820.0 786.0,820.0 787.5,820.0 789.0,820.0 790.5,820.0 792.0,820.0 793.5,820.0 795.0,820.0 796.5,820.0 798.0,820.0 799.5,820.0 801.0,820.0 802.5,820.0 804.0,820.0 805.5,820.0 807.1,820.0 808.6,820.0 810.1,820.0 811.6,820.0 813.1,820.0 814.6,820.0 816.1,820.0 817.6,820.0 819.1,820.0 820.6,820.0 822.1,820.0 823.6,820.0 825.1,820.0 826.7,820.0 828.2,820.0 829.7,820.0 831.2,820.0 832.7,820.0 834.2,820.0 835.7,820.0 837.2,820.0 838.7,820.0 840.3,820.0 841.8,820.0 843.3,820.0 844.8,820.0 846.3,820.0 847.8,820.0 849.3,820.0 850.8,820.0 852.4,820.0 853.9,820.0 855.4,820.0 856.9,820.0 858.4,820.0 859.9,820.0 861.4,820.0 863.0,820.0 864.5,820.0 866.0,820.0 867.5,820.0 869.0,820.0 870.5,820.0 872.0,820.0 873.6,820.0 875.1,820.0 876.6,820.0 878.1,820.0 879.6,820.0 881.2,820.0 882.7,820.0 884.2,820.0 885.7,820.0 887.2,820.0 888.7,820.0 890.3,820.0 891.8,820.0 893.3,820.0 894.8,820.0 896.3,820.0 897.9,820.0 899.4,820.0 900.9,820.0 902.4,820.0 904.0,820.0 905.5,820.0 907.0,820.0" stroke="#ff00ff"/>
<polyline points="152.0,820.0 153.5,820.0 155.1,820.0 156.6,820.0 158.1,820.0 159.6,820.0 161.2,820.0 162.7,820.0 164.2,820.0 165.7,820.0 167.3,820.0 168.8,820.0 170.3,820.0 171.8,820.0 173.4,820.0 174.9,820.0 176.4,820.0 177.9,820.0 179.4,820.0 180.9,820.0 182.5,820.0 184.0,820.0 185.5,820.0 187.0,820.0 188.5,820.0 190.0,820.0 191.5,820.0 193.1,820.0 194.6,820.0 196.1,820.0 197.6,820.0 199.1,820.0 200.6,820.0 202.1,820.0 203.6,820.0 205.1,820.0 206.6,820.0 208.1,820.0 209.7,820.0 211.2,820.0 212.7,820.0 214.2,820.0 215.7,820.0 217.2,820.0 218.7,820.0 220.2,820.0 221.7,820.0 223.2,820.0 224.7,820.0 226.2,820.0 227.7,820.0 229.2,820.0 230.7,820.0 232.2,820.0 233.7,820.0 235.2,820.0 236.7,820.0 238.2,820.0 239.7,820.0 241.1,820.0 242.6,820.0 244.1,820.0 245.6,820.0 247.1,820.0 248.6,820.0 250.1,820.0 251.6,820.0 253.1,820.0 254.6,820.0 256.1,820.0 257.6,820.0 259.1,820.0 260.6,820.0 262.0,820.0 263.5,820.0 265.0,820.0 266.5,820.0 268.0,820.0 269.5,820.0 271.0,820.0 272.5,820.0 273.9,820.0 275.4,820.0 276.9,820.0 278.4,820.0 279.9,820.0 281.4,820.0 282.9,820.0 284.4,820.0 285.8,820.0 287.3,820.0 288.8,820.0 290.3,820.0 291.8,819.9 293.2,819.7 294.7,819.3 296.2,819.0 297.7,818.6 299.1,818.2 300.6,817.9 302.1,817.5 303.5,817.1 305.0,816.7 306.5,816.3 307.9,815.9 309.4,815.5 310.9,815.3 312.3,815.1 313.8,815.0 315.3,815.0 316.8,815.0 318.4,815.1 319.9,815.1 321.4,815.2 323.0,815.2 324.5,815.3 326.0,815.3 327.6,815.4 329.1,815.5 330.6,815.5 332.1,815.5 333.5,815.6 334.9,815.6 336.3,815.6 337.7,815.4 339.1,814.8 340.5,814.1 341.8,813.3 343.1,812.3 344.4,811.3 345.6,810.3 346.7,809.4 347.8,808.4 348.8,807.4 349.8,806.3 350.8,805.1 351.7,803.9 352.6,802.7 353.5,801.4 354.4,800.2 355.3,798.9 356.2,797.7 357.1,796.5 357.9,795.3 358.8,794.0 359.6,792.8 360.4,791.5 361.2,790.2 362.0,788.9 362.7,787.7 363.5,786.4 364.3,785.1 365.1,783.8 365.9,782.5 366.7,781.2 367.4,779.9 368.3,778.7 369.1,777.4 369.9,776.1 370.7,774.9 371.6,773.7 372.5,772.4 373.3,771.2 374.2,770.0 375.1,768.8 376.0,767.6 376.9,766.3 377.7,765.1 378.6,763.9 379.5,762.7 380.4,761.5 381.3,760.3 382.2,759.1 383.1,757.9 384.1,756.7 385.0,755.5 385.9,754.2 386.8,753.0 387.6,751.8 388.5,750.6 389.3,749.3 390.0,748.0 390.7,746.7 391.4,745.4 392.0,744.0 392.7,742.6 393.3,741.3 393.9,739.9 394.5,738.5 395.0,737.0 395.5,735.6 395.9,734.2 396.4,732.8 396.7,731.3 397.1,729.9 397.4,728.4 397.8,727.0 398.1,725.5 398.4,724.0 398.7,722.5 399.0,721.0 399.3,719.6 399.6,718.1 399.9,716.6 400.2,715.1 400.5,713.7 400.8,712.2 401.1,710.7 401.5,709.3 401.8,707.8 402.1,706.3 402.4,704.8 402.7,703.4 403.0,701.9 403.3,700.4 403.6,699.0 404.0,697.5 404.3,696.0 404.6,694.6 404.9,693.1 405.2,691.6 405.5,690.1 405.9,688.7 406.2,687.2 406.5,685.7 406.8,684.3 407.2,682.8 407.5,681.3 407.8,679.9 408.1,678.4 408.5,676.9 408.8,675.5 409.1,674.0 409.4,672.5 409.8,671.1 410.1,669.6 410.4,668.1 410.7,666.7 411.0,665.2 411.3,663.7 411.7,662.2 412.0,660.8 412.3,659.3 412.6,657.8 412.9,656.4 413.2,654.9 413.5,653.4 413.8,651.9 414.1,650.5 414.4,649.0 414.7,647.5 415.0,646.1 415.3,644.6 415.6,643.1 415.9,641.6 416.1,640.2 416.4,638.7 416.7,637.2 417.0,635.7 417.3,634.2 417.5,632.8 417.8,631.3 418.0,629.8 418.3,628.3 418.5,626.8 418.8,625.4 419.0,623.9 419.2,622.4 419.5,620.9 419.7,619.4 419.9,617.9 420.1,616.4 420.4,614.9 420.6,613.5 420.8,612.0 421.0,610.5 421.2,609.0 421.5,607.5 421.7,606.0 421.9,604.5 422.1,603.1 422.4,601.6 422.6,600.1 422.8,598.6 423.1,597.1 423.3,595.6 423.5,594.1 423.7,592.7 424.0,591.2 424.2,589.7 424.4,588.2 424.7,586.7 424.9,585.2 425.1,583.7 425.4,582.3 425.6,580.8 425.8,579.3 426.1,577.8 426.3,576.3 426.5,574.8 426.8,573.3 427.0,571.9 427.3,570.4 427.5,568.9 427.8,567.4 428.0,565.9 428.3,564.5 428.5,563.0 428.8,561.5 429.0,560.0 429.3,558.5 429.6,557.1 429.9,555.6 430.1,554.1 430.4,552.6 430.7,551.1 430.9,549.7 431.2,548.2 431.5,546.7 431.8,545.2 432.1,543.8 432.4,542.3 432.7,540.8 432.9,539.3 433.2,537.9 433.5,536.4 433.8,534.9 434.1,533.4 434.4,532.0 434.7,530.5 435.0,529.0 435.3,527.5 435.6,526.1 435.9,524.6 436.2,523.1 436.5,521.6 436.8,520.2 437.1,518.7 437.4,517.2 437.8,515.8 438.1,514.3 438.4,512.8 438.7,511.4 439.1,509.9 439.4,508.4 439.8,507.0 440.1,505.5 440.5,504.1 440.8,502.6 441.2,501.1 441.6,499.7 441.9,498.2 442.3,496.8 442.7,495.3 443.1,493.9 443.5,492.4 443.9,491.0 444.3,489.5 444.7,488.1 445.2,486.6 445.6,485.2 446.1,483.8 446.5,482.3 447.0,480.8 447.4,479.3 447.9,477.8 448.3,476.3 448.8,474.8 449.3,473.4 449.9,472.0 450.5,470.7 451.1,469.4 451.8,468.2 452.7,467.1 453.7,465.8 454.9,464.6 456.1,463.5 457.5,462.6 458.8,462.1 460.0,462.0 461.3,462.4 462.7,463.0 464.1,463.8 465.5,464.8 466.7,465.9 467.8,466.9 468.8,467.8 469.8,468.9 470.7,470.1 471.5,471.4 472.3,472.7 473.1,474.0 473.8,475.4 474.5,476.8 475.2,478.2 475.8,479.6 476.4,480.9 477.0,482.3 477.5,483.7 478.0,485.1 478.5,486.5 479.0,488.0 479.4,489.4 479.9,490.9 480.3,492.3 480.7,493.8 481.2,495.2 481.6,496.7 482.0,498.1 482.5,499.5 482.9,501.0 483.3,502.4 483.7,503.9 484.2,505.3 484.6,506.8 485.0,508.2 485.4,509.7 485.8,511.1 486.2,512.6 486.5,514.0 486.9,515.5 487.3,516.9 487.6,518.4 488.0,519.9 488.3,521.3 488.6,522.8 488.9,524.2 489.2,525.7 489.5,527.2 489.8,528.7 490.1,530.1 490.4,531.6 490.7,533.1 490.9,534.6 491.2,536.1 491.5,537.5 491.8,539.0 492.1,540.5 492.4,542.0 492.7,543.4 493.0,544.9 493.2,546.4 493.5,547.9 493.8,549.3 494.1,550.8 494.4,552.3 494.7,553.8 495.0,555.2 495.3,556.7 495.6,558.2 495.9,559.6 496.3,561.1 496.6,562.6 497.0,564.0 497.4,565.5 497.8,566.9 498.2,568.4 498.6,569.8 499.0,571.3 499.4,572.7 499.8,574.2 500.2,575.6 500.5,577.1 500.8,578.6 501.2,580.0 501.5,581.5 501.8,583.0 502.1,584.4 502.4,585.9 502.7,587.4 503.0,588.9 503.4,590.3 503.7,591.8 504.1,593.2 504.4,594.7 504.8,596.2 505.2,597.6 505.6,599.1 505.9,600.5 506.3,602.0 506.7,603.4 507.1,604.9 507.5,606.3 507.9,607.8 508.3,609.2 508.8,610.7 509.2,612.1 509.6,613.5 510.0,615.0 510.5,616.4 510.9,617.9 511.3,619.3 511.7,620.8 512.1,622.2 512.4,623.7 512.8,625.1 513.1,626.6 513.4,628.1 513.7,629.6 514.0,631.0 514.4,632.5 514.7,633.9 515.1,635.4 515.5,636.8 515.9,638.3 516.4,639.7 516.8,641.2 517.2,642.6 517.7,644.0 518.2,645.5 518.6,646.9 519.1,648.3 519.6,649.7 520.1,651.2 520.6,652.6 521.1,654.0 521.5,655.4 522.0,656.9 522.4,658.3 522.8,659.8 523.2,661.2 523.6,662.7 523.9,664.1 524.3,665.6 524.7,667.0 525.0,668.5 525.4,670.0 525.8,671.4 526.2,672.8 526.7,674.3 527.1,675.7 527.6,677.2 528.0,678.6 528.5,680.0 528.9,681.5 529.4,682.9 529.8,684.3 530.2,685.8 530.6,687.2 531.0,688.7 531.4,690.2 531.7,691.6 532.1,693.1 532.4,694.5 532.8,696.0 533.2,697.4 533.6,698.9 534.1,700.3 534.6,701.7 535.1,703.1 535.7,704.5 536.3,705.9 536.9,707.3 537.4,708.7 538.0,710.1 538.6,711.5 539.1,712.9 539.7,714.3 540.2,715.8 540.7,717.2 541.3,718.6 541.9,720.0 542.5,721.4 543.2,722.7 543.9,723.9 544.8,725.1 545.7,726.2 546.8,727.4 548.0,728.4 549.1,729.4 550.3,730.2 551.6,730.9 553.0,731.6 554.4,732.2 555.8,732.8 557.2,733.5 558.4,734.3 559.5,735.2 560.7,736.2 561.7,737.3 562.7,738.5 563.7,739.6 564.6,740.8 565.5,742.0 566.3,743.3 567.1,744.6 567.8,745.9 568.6,747.2 569.3,748.6 569.9,749.9 570.6,751.2 571.2,752.6 571.8,754.0 572.4,755.4 573.0,756.8 573.5,758.2 574.1,759.6 574.7,760.9 575.3,762.3 575.9,763.7 576.5,765.1 577.1,766.4 577.7,767.8 578.4,769.2 579.0,770.6 579.7,771.9 580.4,773.2 581.1,774.5 581.9,775.8 582.7,777.1 583.6,778.3 584.5,779.5 585.4,780.7 586.4,781.8 587.3,783.0 588.3,784.1 589.3,785.3 590.3,786.4 591.3,787.5 592.4,788.6 593.4,789.7 594.5,790.8 595.5,791.8 596.6,792.9 597.7,793.9 598.8,794.9 599.9,795.9 601.1,796.9 602.2,797.9 603.4,798.8 604.5,799.8 605.7,800.7 606.9,801.6 608.1,802.5 609.3,803.4 610.5,804.4 611.6,805.4 612.8,806.3 613.9,807.3 615.1,808.3 616.3,809.3 617.4,810.2 618.6,811.1 619.9,811.9 621.1,812.7 622.4,813.5 623.8,814.2 625.1,814.9 626.5,815.6 627.8,816.2 629.2,816.7 630.6,817.2 632.1,817.7 633.5,818.1 635.0,818.5 636.5,818.8 638.0,819.0 639.4,819.1 640.9,819.2 642.4,819.3 643.9,819.5 645.4,819.5 646.9,819.6 648.4,819.7 649.9,819.8 651.4,819.8 652.9,819.9 654.5,819.9 656.0,820.0 657.5,820.0 659.0,820.0 660.5,820.0 662.0,820.0 663.5,820.0 665.0,820.0 666.5,820.0 668.0,820.0 669.5,820.0 671.0,820.0 672.5,820.0 674.0,820.0 675.5,820.0 677.0,820.0 678.5,820.0 680.0,820.0 681.5,820.0 683.0,820.0 684.5,820.0 686.0,820.0 687.5,820.0 689.0,820.0 690.5,820.0 692.0,820.0 693.5,820.0 695.0,820.0 696.5,820.0 698.0,820.0 699.5,820.0 701.0,820.0 702.5,820.0 704.0,820.0 705.5,820.0 707.0,820.0 708.6,820.0 710.1,820.0 711.6,820.0 713.1,820.0 714.6,820.0 716.1,820.0 717.6,820.0 719.1,820.0 720.6,820.0 722.1,820.0 723.6,820.0 725.1,820.0 726.6,820.0 728.1,820.0 729.6,820.0 731.1,820.0 732.6,820.0 734.1,820.0 735.6,820.0 737.1,820.0 738.6,820.0 740.1,820.0 741.6,820.0 743.1,820.0 744.6,820.0 746.1,820.0 747.6,820.0 749.1,820.0 750.6,820.0 752.1,820.0 753.6,820.0 755.1,820.0 756.6,820.0 758.1,820.0 759.6,820.0 761.1,820.0 762.6,820.0 764.2,820.0 765.7,820.0 767.2,820.0 768.7,820.0 770.2,820.0 771.7,820.0 773.2,820.0 774.7,820.0 776.2,820.0 777.7,820.0 779.2,820.0 780.7,820.0 782.2,820.0 783.7,820.0 785.2,820.0 786.7,820.0 788.2,820.0 789.7,820.0 791.2,820.0 792.7,820.0 794.2,820.0 795.7,820.0 797.2,820.0 798.7,820.0 800.2,820.0 801.7,820.0 803.2,820.0 804.7,820.0 806.2,820.0 807.7,820.0 809.2,820.0 810.7,820.0 812.3,820.0 813.8,820.0 815.3,820.0 816.8,820.0 818.3,820.0 819.8,820.0 821.3,820.0 822.8,820.0 824.3,820.0 825.8,820.0 827.3,820.0 828.8,820.0 830.3,820.0 831.8,820.0 833.3,820.0 834.8,820.0 836.3,820.0 837.8,820.0 839.3,820.0 840.8,820.0 842.3,820.0 843.8,820.0 845.3,820.0 846.8,820.0 848.3,820.0 849.8,820.0 851.3,820.0 852.8,820.0 854.4,820.0 855.9,820.0 857.4,820.0 858.9,820.0 860.4,820.0 861.9,820.0 863.4,820.0 864.9,820.0 866.4,820.0 867.9,820.0 869.4,820.0 870.9,820.0 872.4,820.0 873.9,820.0 875.4,820.0 876.9,820.0 878.4,820.0 879.9,820.0 881.4,820.0 882.9,820.0 884.4,820.0 885.9,820.0 887.4,820.0 888.9,820.0 890.5,820.0 892.0,820.0 893.5,820.0 895.0,820.0 896.5,820.0 898.0,820.0 899.5,820.0 901.0,820.0 902.5,820.0 904.0,820.0 905.5,820.0 907.0,820.0" stroke="#ffff00"/>
<polyline points="152.0,820.0 153.5,820.0 155.0,820.0 156.6,820.0 158.1,820.0 159.6,820.0 161.1,820.0 162.6,820.0 164.2,820.0 165.7,820.0 167.2,820.0 168.7,820.0 170.2,820.0 171.8,820.0 173.3,820.0 174.8,820.0 176.3,820.0 177.8,820.0 179.4,820.0 180.9,820.0 182.4,820.0 183.9,820.0 185.4,820.0 186.9,820.0 188.5,820.0 190.0,820.0 191.5,820.0 193.0,820.0 194.5,820.0 196.0,820.0 197.5,820.0 199.1,820.0 200.6,820.0 202.1,820.0 203.6,820.0 205.1,820.0 206.6,820.0 208.1,820.0 209.6,820.0 211.2,820.0 212.7,820.0 214.2,820.0 215.7,820.0 217.2,820.0 218.7,820.0 220.2,820.0 221.7,820.0 223.2,820.0 224.8,820.0 226.3,820.0 227.8,820.0 229.3,820.0 230.8,820.0 232.3,820.0 233.8,820.0 235.3,820.0 236.8,820.0 238.3,820.0 239.8,820.0 241.4,820.0 242.9,820.0 244.4,820.0 245.9,820.0 247.4,820.0 248.9,820.0 250.4,820.0 251.9,820.0 253.4,820.0 254.9,820.0 256.4,820.0 257.9,820.0 259.4,820.0 260.9,820.0 262.4,820.0 263.9,820.0 265.4,820.0 267.0,820.0 268.5,820.0 270.0,820.0 271.5,820.0 273.0,820.0 274.5,820.0 276.0,820.0 277.5,820.0 279.0,820.0 280.5,820.0 282.0,820.0 283.5,820.0 285.0,820.0 286.5,820.0 288.0,820.0 289.5,820.0 291.0,820.0 292.5,820.0 294.0,820.0 295.5,820.0 297.0,820.0 298.5,820.0 300.0,820.0 301.5,820.0 303.0,820.0 304.5,820.0 306.0,820.0 307.5,820.0 309.0,820.0 310.5,820.0 312.0,820.0 313.5,820.0 315.0,820.0 316.5,820.0 318.0,820.0 319.5,820.0 321.0,820.0 322.5,820.0 324.0,820.0 325.5,820.0 327.0,820.0 328.5,820.0 330.0,820.0 331.5,820.0 332.9,820.0 334.4,820.0 335.9,820.0 337.4,820.0 338.9,820.0 340.4,820.0 341.9,820.0 343.4,820.0 344.9,820.0 346.4,820.0 347.9,820.0 349.4,820.0 350.9,820.0 352.4,820.0 353.9,820.0 355.4,820.0 356.9,820.0 358.4,820.0 359.9,820.0 361.3,820.0 362.8,820.0 364.3,820.0 365.8,820.0 367.3,820.0 368.8,820.0 370.3,820.0 371.8,820.0 373.3,820.0 374.8,820.0 376.3,820.0 377.8,820.0 379.3,820.0 380.8,820.0 382.2,820.0 383.7,820.0 385.2,820.0 386.7,820.0 388.2,820.0 389.7,820.0 391.2,820.0 392.7,820.0 394.2,820.0 395.7,820.0 397.2,820.0 398.7,820.0 400.1,820.0 401.6,820.0 403.1,820.0 404.6,820.0 406.1,820.0 407.6,820.0 409.1,820.0 410.6,820.0 412.1,820.0 413.6,820.0 415.0,820.0 416.5,820.0 418.0,820.0 419.5,820.0 421.0,820.0 422.5,820.0 424.0,820.0 425.5,820.0 427.0,820.0 428.4,820.0 429.9,820.0 431.4,820.0 432.9,820.0 434.4,820.0 435.9,820.0 437.4,820.0 438.9,819.9 440.4,819.7 441.7,819.2 443.0,818.3 444.1,817.3 445.2,816.2 446.1,815.0 447.0,813.8 447.8,812.5 448.5,811.2 449.1,809.9 449.6,808.5 450.2,807.0 450.6,805.6 451.1,804.1 451.5,802.7 451.9,801.2 452.3,799.8 452.7,798.3 453.1,796.9 453.5,795.4 453.8,794.0 454.1,792.5 454.5,791.0 454.8,789.6 455.0,788.1 455.3,786.6 455.6,785.1 455.9,783.7 456.1,782.2 456.4,780.7 456.7,779.2 457.0,777.7 457.2,776.3 457.5,774.8 457.8,773.3 458.1,771.9 458.4,770.4 458.7,768.9 459.0,767.4 459.3,766.0 459.6,764.5 459.9,763.0 460.3,761.6 460.6,760.1 460.9,758.6 461.2,757.2 461.5,755.7 461.9,754.2 462.3,752.8 462.6,751.3 463.0,749.8 463.4,748.4 463.8,746.9 464.2,745.5 464.7,744.1 465.2,742.7 465.8,741.3 466.4,739.9 467.1,738.6 467.9,737.3 468.6,736.0 469.4,734.7 470.3,733.5 471.2,732.3 472.1,731.1 473.0,729.9 473.8,728.6 474.5,727.3 475.3,726.0 476.0,724.6 476.6,723.2 477.0,721.8 477.4,720.4 477.7,718.9 477.9,717.5 478.2,716.0 478.4,714.5 478.7,713.0 478.9,711.5 479.2,710.0 479.4,708.5 479.7,707.0 479.9,705.6 480.1,704.1 480.4,702.6 480.6,701.1 480.9,699.6 481.1,698.2 481.5,696.7 481.8,695.2 482.2,693.8 482.5,692.3 482.8,690.8 483.1,689.4 483.4,687.9 483.6,686.4 483.8,684.9 484.0,683.4 484.2,681.9 484.4,680.4 484.6,679.0 484.8,677.5 485.0,676.0 485.2,674.5 485.4,673.0 485.6,671.5 485.8,670.0 486.0,668.5 486.2,667.0 486.4,665.5 486.6,664.1 486.8,662.6 487.0,661.1 487.3,659.6 487.5,658.1 487.7,656.6 488.0,655.2 488.2,653.7 488.5,652.2 488.7,650.7 489.0,649.2 489.3,647.7 489.7,646.3 490.0,644.8 490.4,643.2 490.9,641.3 491.4,639.6 492.0,638.2 492.8,637.5 493.8,637.5 495.2,637.5 496.9,637.5 498.6,637.5 500.2,637.5 501.8,637.5 503.3,637.5 504.4,637.4 505.4,636.4 506.2,634.9 506.9,633.3 507.4,631.9 507.9,630.5 508.3,629.0 508.7,627.5 509.0,626.1 509.3,624.6 509.6,623.1 509.8,621.6 510.1,620.2 510.3,618.7 510.5,617.2 510.7,615.7 511.0,614.2 511.2,612.7 511.4,611.2 511.7,609.8 511.9,608.3 512.1,606.8 512.3,605.3 512.5,603.8 512.7,602.3 512.9,600.8 513.1,599.3 513.3,597.9 513.4,596.4 513.6,594.9 513.8,593.4 514.0,591.9 514.2,590.4 514.3,588.9 514.5,587.4 514.6,585.9 514.7,584.4 514.8,582.9 514.9,581.4 515.0,579.9 515.1,578.4 515.1,576.9 515.1,575.4 515.2,573.9 515.2,572.4 515.2,570.9 515.3,569.4 515.3,567.9 515.3,566.4 515.4,564.9 515.4,563.4 515.4,561.9 515.5,560.4 515.5,558.9 515.6,557.4 515.7,555.9 515.8,554.4 515.9,552.9 516.0,551.4 516.1,549.9 516.2,548.4 516.3,546.9 516.5,545.4 516.6,543.9 516.7,542.4 516.8,540.9 516.9,539.4 517.1,537.9 517.2,536.4 517.3,534.9 517.4,533.4 517.5,531.9 517.6,530.4 517.7,528.9 517.7,527.4 517.8,525.9 517.9,524.4 518.0,522.9 518.0,521.4 518.1,519.9 518.2,518.4 518.2,516.9 518.3,515.4 518.4,513.9 518.4,512.4 518.5,510.9 518.5,509.4 518.6,507.9 518.7,506.4 518.7,504.9 518.8,503.4 518.8,501.9 518.9,500.4 518.9,498.9 519.0,497.4 519.0,495.9 519.1,494.4 519.2,492.9 519.2,491.4 519.3,489.9 519.3,488.4 519.4,486.9 519.4,485.4 519.5,483.9 519.5,482.4 519.6,480.9 519.6,479.4 519.7,477.9 519.8,476.4 519.8,474.9 519.9,473.4 519.9,471.9 520.0,470.4 520.0,468.9 520.1,467.4 520.2,465.9 520.2,464.4 520.3,462.9 520.3,461.4 520.4,459.9 520.5,458.4 520.5,456.9 520.6,455.4 520.7,453.9 520.7,452.4 520.8,450.9 520.8,449.4 520.9,447.9 521.0,446.4 521.0,444.9 521.1,443.4 521.1,441.9 521.2,440.4 521.3,438.9 521.3,437.4 521.4,435.9 521.4,434.4 521.5,432.9 521.5,431.4 521.6,429.9 521.7,428.4 521.7,426.9 521.8,425.4 521.8,423.9 521.9,422.4 521.9,420.9 522.0,419.4 522.0,417.9 522.1,416.4 522.1,414.9 522.2,413.4 522.2,411.9 522.3,410.4 522.3,408.9 522.4,407.4 522.4,405.9 522.5,404.4 522.5,402.9 522.6,401.4 522.6,399.9 522.7,398.4 522.7,396.9 522.8,395.4 522.8,393.9 522.9,392.4 523.0,390.9 523.0,389.4 523.1,387.9 523.2,386.4 523.2,384.9 523.3,383.3 523.4,381.8 523.4,380.3 523.5,378.8 523.6,377.3 523.7,375.8 523.7,374.3 523.8,372.8 523.9,371.3 524.0,369.8 524.1,368.3 524.1,366.8 524.2,365.3 524.3,363.8 524.4,362.3 524.5,360.9 524.5,359.4 524.6,357.9 524.7,356.4 524.8,354.9 524.9,353.4 524.9,351.9 525.0,350.4 525.1,348.9 525.2,347.4 525.3,345.9 525.3,344.4 525.4,342.9 525.5,341.4 525.6,339.9 525.6,338.4 525.7,336.9 525.8,335.4 525.8,333.8 525.9,332.3 526.0,330.8 526.0,329.3 526.1,327.8 526.1,326.3 526.2,324.8 526.3,323.3 526.3,321.8 526.4,320.3 526.4,318.8 526.5,317.3 526.5,315.8 526.6,314.3 526.6,312.8 526.7,311.3 526.7,309.8 526.8,308.3 526.8,306.8 526.9,305.3 526.9,303.8 527.0,302.3 527.0,300.8 527.1,299.3 527.1,297.8 527.2,296.3 527.2,294.8 527.3,293.3 527.3,291.8 527.4,290.3 527.4,288.8 527.4,287.3 527.5,285.8 527.5,284.3 527.6,282.8 527.6,281.3 527.7,279.8 527.7,278.3 527.8,276.8 527.8,275.3 527.9,273.8 527.9,272.3 528.0,270.8 528.0,269.3 528.1,267.8 528.1,266.3 528.2,264.8 528.2,263.3 528.3,261.8 528.3,260.3 528.4,258.8 528.4,257.3 528.5,255.8 528.5,254.3 528.6,252.8 528.6,251.3 528.7,249.8 528.7,248.3 528.8,246.8 528.8,245.3 528.9,243.8 528.9,242.3 529.0,240.8 529.0,239.3 529.1,237.8 529.1,236.3 529.1,234.8 529.2,233.3 529.2,231.8 529.2,230.3 529.3,228.8 529.3,227.3 529.3,225.8 529.4,224.3 529.4,222.8 529.5,221.3 529.5,219.8 529.5,218.3 529.6,216.8 529.6,215.3 529.7,213.8 529.7,212.3 529.8,210.8 529.8,209.3 529.9,207.8 529.9,206.3 530.0,204.8 530.1,203.3 530.2,201.8 530.3,200.3 530.4,198.8 530.6,197.3 530.7,195.8 530.8,194.3 530.9,192.8 531.1,191.3 531.2,189.8 531.3,188.3 531.4,186.8 531.6,185.3 531.7,183.8 531.8,182.3 531.9,180.8 532.0,179.3 532.1,177.8 532.2,176.3 532.3,174.8 532.4,173.3 532.4,171.8 532.5,170.3 532.6,168.8 532.6,167.3 532.7,165.8 532.8,164.3 532.9,162.8 533.1,161.3 533.2,159.8 533.4,158.3 533.7,156.8 534.0,155.3 534.3,153.9 534.7,152.4 535.2,150.6 535.9,149.1 536.6,148.5 537.3,149.3 538.0,151.0 538.5,152.8 538.6,154.2 538.8,155.7 538.9,157.1 539.0,158.6 539.1,160.1 539.2,161.7 539.2,163.2 539.3,164.7 539.4,166.2 539.5,167.7 539.6,169.2 539.7,170.7 539.8,172.2 540.0,173.7 540.1,175.2 540.2,176.7 540.3,178.2 540.5,179.7 540.6,181.2 540.7,182.7 540.9,184.2 541.0,185.7 541.1,187.2 541.3,188.7 541.4,190.2 541.5,191.7 541.6,193.2 541.7,194.7 541.8,196.2 541.8,197.7 541.9,199.2 542.0,200.7 542.1,202.2 542.2,203.7 542.2,205.2 542.3,206.7 542.4,208.2 542.5,209.7 542.6,211.2 542.7,212.7 542.8,214.2 542.9,215.7 543.0,217.2 543.1,218.7 543.2,220.2 543.3,221.7 543.4,223.2 543.5,224.7 543.6,226.2 543.7,227.7 543.8,229.2 543.9,230.7 544.0,232.2 544.1,233.7 544.2,235.2 544.3,236.7 544.4,238.2 544.5,239.7 544.6,241.2 544.7,242.7 544.8,244.1 544.9,245.6 545.0,247.1 545.1,248.6 545.2,250.1 545.2,251.6 545.3,253.1 545.4,254.6 545.5,256.1 545.6,257.6 545.7,259.1 545.8,260.6 545.9,262.1 546.0,263.6 546.1,265.1 546.2,266.6 546.3,268.1 546.4,269.6 546.5,271.1 546.6,272.6 546.6,274.1 546.7,275.6 546.8,277.1 546.9,278.6 547.0,280.1 547.1,281.6 547.2,283.1 547.2,284.6 547.3,286.1 547.4,287.6 547.5,289.1 547.6,290.6 547.6,292.1 547.7,293.6 547.8,295.1 547.9,296.6 548.0,298.1 548.0,299.6 548.1,301.1 548.2,302.6 548.3,304.1 548.4,305.6 548.5,307.1 548.6,308.6 548.6,310.1 548.7,311.6 548.8,313.1 548.9,314.6 549.0,316.1 549.1,317.6 549.2,319.1 549.3,320.6 549.4,322.1 549.5,323.6 549.6,325.1 549.7,326.6 549.9,328.1 550.0,329.6 550.1,331.1 550.2,332.6 550.3,334.1 550.5,335.6 550.6,337.1 550.8,338.6 550.9,340.1 551.1,341.6 551.2,343.1 551.4,344.6 551.5,346.0 551.7,347.5 551.9,349.0 552.0,350.5 552.2,352.0 552.4,353.5 552.6,355.0 552.7,356.5 552.9,358.0 553.1,359.5 553.3,361.0 553.5,362.5 553.7,364.0 553.8,365.4 554.0,366.9 554.2,368.4 554.4,369.9 554.6,371.4 554.8,372.9 555.0,374.4 555.1,375.9 555.3,377.4 555.5,378.8 555.7,380.3 555.9,381.8 556.1,383.3 556.4,384.8 556.6,386.3 556.8,387.8 557.0,389.3 557.2,390.8 557.4,392.2 557.6,393.7 557.8,395.2 558.1,396.7 558.3,398.2 558.5,399.7 558.7,401.2 558.9,402.6 559.1,404.1 559.4,405.6 559.6,407.1 559.8,408.6 560.0,410.1 560.2,411.6 560.4,413.0 560.7,414.5 560.9,416.0 561.1,417.5 561.3,419.0 561.6,420.5 561.8,422.0 562.0,423.4 562.3,424.9 562.5,426.4 562.7,427.9 562.9,429.4 563.2,430.9 563.4,432.3 563.6,433.8 563.9,435.3 564.1,436.8 564.3,438.3 564.5,439.8 564.8,441.3 565.0,442.7 565.2,444.2 565.4,445.7 565.6,447.2 565.8,448.7 566.0,450.2 566.2,451.7 566.4,453.2 566.6,454.6 566.8,456.1 567.0,457.6 567.2,459.1 567.4,460.6 567.6,462.1 567.8,463.6 568.0,465.1 568.2,466.6 568.4,468.0 568.6,469.5 568.8,471.0 568.9,472.5 569.1,474.0 569.3,475.5 569.5,477.0 569.7,478.5 569.8,480.0 570.0,481.5 570.2,483.0 570.4,484.5 570.5,485.9 570.7,487.4 570.9,488.9 571.0,490.4 571.2,491.9 571.4,493.4 571.5,494.9 571.7,496.4 571.8,497.9 572.0,499.4 572.2,500.9 572.3,502.4 572.5,503.9 572.6,505.4 572.7,506.9 572.9,508.3 573.0,509.8 573.2,511.3 573.3,512.8 573.5,514.3 573.6,515.8 573.8,517.3 573.9,518.8 574.1,520.3 574.2,521.8 574.3,523.3 574.5,524.8 574.6,526.3 574.8,527.8 574.9,529.3 575.1,530.8 575.2,532.3 575.4,533.8 575.5,535.3 575.7,536.7 575.8,538.2 576.0,539.7 576.1,541.2 576.3,542.7 576.4,544.2 576.6,545.7 576.7,547.2 576.9,548.7 577.0,550.2 577.2,551.7 577.3,553.2 577.5,554.7 577.6,556.2 577.8,557.7 577.9,559.2 578.1,560.7 578.2,562.2 578.4,563.7 578.5,565.1 578.7,566.6 578.8,568.1 579.0,569.6 579.1,571.1 579.3,572.6 579.4,574.1 579.6,575.6 579.7,577.1 579.9,578.6 580.1,580.1 580.2,581.6 580.4,583.1 580.5,584.6 580.7,586.1 580.9,587.6 581.0,589.0 581.2,590.5 581.3,592.0 581.5,593.5 581.6,595.0 581.7,596.5 581.8,598.0 582.0,599.5 582.1,601.0 582.2,602.5 582.3,604.0 582.4,605.5 582.5,607.0 582.5,608.5 582.6,610.0 582.7,611.5 582.8,613.0 582.9,614.5 582.9,616.0 583.0,617.5 583.1,619.0 583.2,620.5 583.3,622.0 583.4,623.5 583.5,625.0 583.6,626.5 583.8,628.0 583.9,629.5 584.0,631.0 584.2,632.5 584.4,634.0 584.5,635.5 584.7,637.0 584.9,638.5 585.0,639.9 585.2,641.4 585.3,642.9 585.5,644.4 585.6,645.9 585.7,647.4 585.8,648.9 585.9,650.4 586.0,651.9 586.1,653.4 586.2,654.9 586.3,656.4 586.5,657.9 586.6,659.4 586.7,660.9 586.8,662.4 586.9,663.9 587.0,665.4 587.2,666.9 587.3,668.4 587.4,669.9 587.6,671.4 587.7,672.9 587.9,674.4 588.1,675.9 588.2,677.4 588.4,678.9 588.5,680.3 588.7,681.8 588.8,683.3 589.0,684.8 589.1,686.3 589.3,687.8 589.4,689.3 589.6,690.8 589.7,692.3 589.8,693.8 590.0,695.3 590.1,696.8 590.3,698.3 590.5,699.8 590.7,701.3 590.9,702.7 591.1,704.2 591.3,705.7 591.6,707.2 591.8,708.7 592.0,710.2 592.3,711.7 592.5,713.1 592.7,714.6 593.0,716.1 593.2,717.6 593.4,719.1 593.7,720.6 593.9,722.0 594.1,723.5 594.4,725.0 594.6,726.5 594.9,728.0 595.2,729.4 595.4,730.9 595.7,732.4 596.0,733.9 596.3,735.3 596.6,736.8 596.9,738.3 597.2,739.8 597.5,741.2 597.8,742.7 598.1,744.2 598.5,745.6 598.8,747.1 599.2,748.6 599.5,750.0 599.9,751.5 600.2,752.9 600.6,754.4 601.0,755.8 601.4,757.3 601.8,758.7 602.2,760.2 602.6,761.6 603.1,763.1 603.5,764.5 604.0,765.9 604.5,767.3 605.0,768.7 605.5,770.1 606.1,771.5 606.7,772.9 607.3,774.3 607.9,775.7 608.5,777.1 609.1,778.5 609.7,779.9 610.4,781.2 611.1,782.5 611.9,783.8 612.7,785.0 613.7,786.1 614.7,787.3 615.9,788.3 617.0,789.3 618.2,790.1 619.5,790.8 620.9,791.5 622.3,792.1 623.7,792.8 624.8,793.6 625.9,794.6 627.0,795.7 627.9,796.9 628.9,798.2 629.7,799.5 630.4,800.7 631.0,802.1 631.5,803.5 632.0,804.9 632.5,806.4 633.0,807.8 633.6,809.2 634.3,810.5 635.0,811.9 635.8,813.3 636.6,814.5 637.6,815.6 638.7,816.5 639.9,817.4 641.3,818.1 642.7,818.7 644.2,819.0 645.6,819.2 647.1,819.4 648.5,819.5 650.0,819.6 651.6,819.7 653.1,819.8 654.6,819.9 656.1,819.9 657.7,820.0 659.2,820.0 660.7,820.0 662.2,820.0 663.7,820.0 665.2,820.0 666.7,820.0 668.2,820.0 669.7,820.0 671.2,820.0 672.7,820.0 674.2,820.0 675.7,820.0 677.2,820.0 678.7,820.0 680.2,820.0 681.7,820.0 683.2,820.0 684.7,820.0 686.2,820.0 687.7,820.0 689.2,820.0 690.7,820.0 692.2,820.0 693.7,820.0 695.2,820.0 696.7,820.0 698.2,820.0 699.7,820.0 701.2,820.0 702.7,820.0 704.2,820.0 705.7,820.0 707.2,820.0 708.7,820.0 710.2,820.0 711.7,820.0 713.2,820.0 714.7,820.0 716.2,820.0 717.7,820.0 719.2,820.0 720.7,820.0 722.2,820.0 723.7,820.0 725.2,820.0 726.7,820.0 728.2,820.0 729.7,820.0 731.2,820.0 732.7,820.0 734.2,820.0 735.7,820.0 737.2,820.0 738.7,820.0 740.2,820.0 741.7,820.0 743.2,820.0 744.7,820.0 746.2,820.0 747.7,820.0 749.2,820.0 750.7,820.0 752.2,820.0 753.7,820.0 755.2,820.0 756.7,820.0 758.2,820.0 759.7,820.0 761.2,820.0 762.7,820.0 764.2,820.0 765.7,820.0 767.2,820.0 768.7,820.0 770.2,820.0 771.7,820.0 773.2,820.0 774.7,820.0 776.2,820.0 777.7,820.0 779.2,820.0 780.7,820.0 782.2,820.0 783.7,820.0 785.2,820.0 786.7,820.0 788.2,820.0 789.8,820.0 791.3,820.0 792.8,820.0 794.3,820.0 795.8,820.0 797.3,820.0 798.8,820.0 800.3,820.0 801.8,820.0 803.3,820.0 804.8,820.0 806.3,820.0 807.8,820.0 809.3,820.0 810.8,820.0 812.3,820.0 813.8,820.0 815.3,820.0 816.8,820.0 818.3,820.0 819.8,820.0 821.3,820.0 822.8,820.0 824.3,820.0 825.8,820.0 827.3,820.0 828.8,820.0 830.3,820.0 831.8,820.0 833.3,820.0 834.8,820.0 836.3,820.0 837.8,820.0 839.3,820.0 840.8,820.0 842.3,820.0 843.8,820.0 845.3,820.0 846.8,820.0 848.3,820.0 849.9,820.0 851.4,820.0 852.9,820.0 854.4,820.0 855.9,820.0 857.4,820.0 858.9,820.0 860.4,820.0 861.9,820.0 863.4,820.0 864.9,820.0 866.4,820.0 867.9,820.0 869.4,820.0 870.9,820.0 872.4,820.0 873.9,820.0 875.4,820.0 876.9,820.0 878.4,820.0 879.9,820.0 881.4,820.0 882.9,820.0 884.4,820.0 885.9,820.0 887.4,820.0 888.9,820.0 890.5,820.0 892.0,820.0 893.5,820.0 895.0,820.0 896.5,820.0 898.0,820.0 899.5,820.0 901.0,820.0 902.5,820.0 904.0,820.0 905.5,820.0 907.0,820.0" stroke="#bebebe"/>
<polyline points="152.0,820.0 153.5,820.0 155.0,820.0 156.5,820.0 158.0,820.0 159.5,820.0 161.1,820.0 162.6,820.0 164.1,820.0 165.6,820.0 167.1,820.0 168.6,820.0 170.1,820.0 171.6,820.0 173.1,820.0 174.6,820.0 176.1,820.0 177.6,820.0 179.1,820.0 180.6,820.0 182.1,820.0 183.6,820.0 185.1,820.0 186.7,820.0 188.2,820.0 189.7,820.0 191.2,820.0 192.7,820.0 194.2,820.0 195.7,820.0 197.2,820.0 198.7,820.0 200.2,820.0 201.7,820.0 203.2,820.0 204.7,820.0 206.2,820.0 207.7,820.0 209.2,820.0 210.7,820.0 212.2,820.0 213.7,820.0 215.2,820.0 216.7,820.0 218.2,820.0 219.7,820.0 221.2,820.0 222.7,820.0 224.2,820.0 225.7,820.0 227.2,820.0 228.7,820.0 230.2,820.0 231.7,820.0 233.2,820.0 234.7,820.0 236.2,820.0 237.7,820.0 239.2,820.0 240.7,820.0 242.2,819.9 243.7,819.8 245.2,819.7 246.7,819.5 248.2,819.3 249.7,819.0 251.1,818.8 252.6,818.6 254.1,818.3 255.5,818.0 257.0,817.7 258.5,817.3 259.9,816.9 261.4,816.5 262.8,816.1 264.3,815.7 265.7,815.3 267.2,814.8 268.6,814.4 270.1,814.0 271.5,813.5 272.9,813.1 274.4,812.6 275.8,812.1 277.2,811.6 278.6,811.1 280.0,810.6 281.4,810.0 282.8,809.5 284.3,809.0 285.7,808.5 287.1,808.0 288.5,807.5 289.9,807.0 291.4,806.6 292.8,806.1 294.2,805.6 295.7,805.2 297.1,804.8 298.6,804.4 300.0,804.0 301.5,803.7 302.9,803.4 304.4,803.1 305.9,802.8 307.4,802.6 308.9,802.3 310.3,801.9 311.8,801.5 313.2,801.1 314.7,800.7 316.1,800.2 317.5,799.8 319.0,799.3 320.4,798.9 321.8,798.5 323.3,798.0 324.7,797.6 326.2,797.2 327.6,796.8 329.0,796.3 330.5,795.8 331.9,795.3 333.3,794.8 334.7,794.3 336.1,793.7 337.5,793.1 338.9,792.5 340.2,791.9 341.6,791.2 342.9,790.5 344.2,789.7 345.5,789.0 346.8,788.2 348.0,787.3 349.3,786.5 350.5,785.7 351.7,784.8 353.0,783.9 354.2,783.0 355.4,782.1 356.6,781.1 357.7,780.2 358.8,779.2 359.9,778.1 360.9,777.0 361.8,775.9 362.7,774.7 363.6,773.5 364.5,772.3 365.3,771.0 366.2,769.8 367.0,768.5 367.8,767.2 368.7,765.9 369.5,764.7 370.4,763.5 371.3,762.3 372.2,761.0 373.1,759.8 374.1,758.6 375.0,757.4 375.9,756.2 376.8,755.0 377.6,753.8 378.5,752.6 379.3,751.3 380.0,750.0 380.7,748.7 381.4,747.4 382.0,746.0 382.6,744.7 383.2,743.3 383.8,741.9 384.4,740.5 385.0,739.1 385.5,737.7 386.1,736.3 386.6,734.9 387.1,733.5 387.7,732.1 388.2,730.7 388.7,729.2 389.3,727.8 389.8,726.4 390.4,725.0 390.9,723.6 391.5,722.2 392.0,720.8 392.6,719.4 393.1,718.0 393.7,716.6 394.2,715.2 394.8,713.8 395.3,712.4 395.8,711.0 396.4,709.6 396.9,708.2 397.4,706.8 398.0,705.4 398.5,704.0 399.0,702.6 399.6,701.2 400.1,699.8 400.6,698.4 401.1,697.0 401.6,695.5 402.1,694.1 402.7,692.7 403.2,691.3 403.7,689.9 404.2,688.5 404.7,687.1 405.3,685.7 405.9,684.3 406.5,682.9 407.1,681.5 407.7,680.2 408.3,678.8 409.0,677.5 409.7,676.1 410.3,674.8 411.0,673.4 411.7,672.1 412.4,670.8 413.1,669.4 413.8,668.1 414.5,666.8 415.2,665.4 415.9,664.1 416.6,662.8 417.3,661.4 418.0,660.1 418.7,658.7 419.4,657.4 420.2,656.1 420.9,654.7 421.7,653.4 422.5,652.2 423.3,651.0 424.2,649.8 425.1,648.6 426.1,647.5 427.1,646.3 428.2,645.2 429.3,644.2 430.4,643.2 431.6,642.3 432.8,641.4 434.1,640.5 435.4,639.7 436.8,638.9 438.2,638.3 439.6,638.0 441.0,638.0 442.5,638.2 444.0,638.4 445.5,638.7 447.0,639.1 448.5,639.5 449.9,640.0 451.2,640.5 452.5,641.3 453.7,642.2 454.8,643.3 456.0,644.3 457.2,645.2 458.4,646.1 459.6,647.0 460.8,647.9 462.0,648.9 463.2,649.8 464.4,650.6 465.7,651.4 467.0,652.2 468.3,653.0 469.6,653.7 470.9,654.4 472.2,655.1 473.6,655.9 474.9,656.6 476.3,657.3 477.7,657.9 479.1,658.4 480.5,658.5 482.0,658.7 483.5,658.8 485.1,658.9 486.6,658.9 488.1,659.0 489.6,659.0 491.0,658.9 492.5,658.6 494.0,658.1 495.4,657.4 496.7,656.7 498.0,656.0 499.2,655.2 500.3,654.2 501.4,653.1 502.5,652.0 503.6,650.9 504.7,649.9 505.8,648.9 506.9,647.8 508.0,646.8 509.1,645.8 510.2,644.7 511.3,643.7 512.4,642.7 513.5,641.8 514.7,640.8 515.8,639.8 517.0,638.8 518.1,637.9 519.3,636.8 520.4,635.7 521.6,634.7 522.7,633.7 524.0,632.9 525.3,632.4 526.7,632.0 528.1,631.7 529.7,631.4 531.2,631.2 532.7,631.0 534.2,631.0 535.7,631.2 537.2,631.5 538.6,632.1 540.1,632.8 541.4,633.5 542.7,634.3 543.8,635.1 544.8,636.1 545.7,637.3 546.6,638.5 547.5,639.8 548.4,641.1 549.3,642.4 550.2,643.6 551.0,644.8 551.9,646.1 552.7,647.3 553.5,648.6 554.3,649.9 555.1,651.2 555.9,652.4 556.6,653.7 557.4,655.0 558.1,656.4 558.8,657.7 559.5,659.0 560.2,660.4 560.8,661.7 561.4,663.1 562.0,664.5 562.6,665.8 563.2,667.2 563.8,668.6 564.4,670.0 565.0,671.4 565.7,672.7 566.3,674.1 566.9,675.5 567.5,676.9 568.1,678.2 568.7,679.6 569.3,681.0 570.0,682.3 570.6,683.7 571.2,685.1 571.8,686.5 572.4,687.8 572.9,689.2 573.5,690.6 574.0,692.0 574.6,693.4 575.1,694.8 575.7,696.2 576.2,697.6 576.8,699.0 577.3,700.4 577.9,701.8 578.4,703.2 578.9,704.6 579.5,706.0 580.0,707.5 580.5,708.9 581.0,710.3 581.6,711.7 582.1,713.1 582.6,714.5 583.2,715.9 583.7,717.3 584.3,718.7 584.8,720.1 585.4,721.5 585.9,722.9 586.4,724.3 587.0,725.7 587.5,727.1 588.1,728.5 588.6,729.9 589.2,731.3 589.7,732.7 590.3,734.1 590.9,735.5 591.5,736.9 592.1,738.2 592.7,739.6 593.4,740.9 594.0,742.3 594.7,743.7 595.3,745.0 596.0,746.3 596.7,747.7 597.4,749.0 598.1,750.4 598.8,751.7 599.5,753.0 600.2,754.3 600.9,755.7 601.6,757.0 602.3,758.3 603.0,759.6 603.7,761.0 604.5,762.3 605.2,763.6 605.9,764.9 606.7,766.2 607.4,767.5 608.2,768.8 608.9,770.1 609.7,771.4 610.4,772.7 611.2,774.0 611.9,775.3 612.7,776.7 613.4,778.0 614.2,779.3 615.0,780.6 615.8,781.9 616.6,783.2 617.4,784.4 618.2,785.6 619.1,786.8 620.0,788.0 620.9,789.2 621.9,790.3 623.0,791.4 624.0,792.4 625.1,793.5 626.2,794.5 627.3,795.6 628.4,796.6 629.6,797.6 630.7,798.6 631.8,799.6 632.9,800.6 634.1,801.6 635.2,802.6 636.4,803.5 637.6,804.4 638.9,805.3 640.1,806.1 641.4,806.8 642.7,807.5 644.0,808.2 645.4,808.9 646.8,809.5 648.1,810.2 649.5,810.8 650.9,811.4 652.3,812.0 653.6,812.6 655.0,813.2 656.4,813.8 657.8,814.3 659.2,814.8 660.7,815.2 662.1,815.5 663.6,815.9 665.1,816.2 666.6,816.5 668.1,816.7 669.5,816.9 671.0,817.1 672.5,817.3 674.0,817.4 675.5,817.6 677.0,817.7 678.5,817.9 680.0,818.0 681.5,818.2 683.0,818.3 684.5,818.5 686.0,818.7 687.5,818.8 689.0,818.9 690.5,819.0 692.0,819.1 693.5,819.2 695.0,819.3 696.5,819.3 698.0,819.4 699.5,819.5 701.0,819.5 702.5,819.6 704.0,819.7 705.5,819.7 707.0,819.8 708.5,819.8 710.0,819.9 711.5,819.9 713.0,819.9 714.5,820.0 716.0,820.0 717.5,820.0 719.0,820.0 720.5,820.0 722.0,820.0 723.5,820.0 725.0,820.0 726.5,820.0 728.0,820.0 729.5,820.0 731.0,820.0 732.5,820.0 734.0,820.0 735.5,820.0 737.1,820.0 738.6,820.0 740.1,820.0 741.6,820.0 743.1,820.0 744.6,820.0 746.1,820.0 747.6,820.0 749.1,820.0 750.6,820.0 752.1,820.0 753.6,820.0 755.1,820.0 756.6,820.0 758.1,820.0 759.6,820.0 761.1,820.0 762.6,820.0 764.1,820.0 765.6,820.0 767.1,820.0 768.6,820.0 770.1,820.0 771.6,820.0 773.1,820.0 774.6,820.0 776.1,820.0 777.6,820.0 779.1,820.0 780.6,820.0 782.1,820.0 783.6,820.0 785.2,820.0 786.7,819.9 788.2,819.9 789.7,819.8 791.2,819.8 792.7,819.7 794.2,819.7 795.7,819.6 797.2,819.5 798.7,819.4 800.2,819.3 801.7,819.2 803.2,819.1 804.7,819.0 806.2,818.9 807.6,818.7 809.1,818.4 810.6,818.1 812.1,817.8 813.5,817.5 815.0,817.2 816.5,816.9 818.0,816.7 819.5,816.5 821.0,816.3 822.5,816.2 824.0,815.9 825.4,815.7 826.9,815.4 828.4,815.1 829.8,814.7 831.3,814.2 832.7,813.8 834.1,813.3 835.6,812.8 837.0,812.3 838.4,811.8 839.8,811.3 841.2,810.7 842.6,810.2 844.0,809.6 845.3,808.9 846.7,808.2 848.0,807.6 849.3,806.9 850.7,806.2 852.0,805.5 853.4,804.8 854.7,804.2 856.1,803.5 857.4,802.8 858.7,802.1 860.0,801.4 861.3,800.6 862.6,799.8 863.8,798.9 865.1,798.1 866.4,797.3 867.7,796.6 869.0,795.9 870.4,795.3 871.7,794.6 873.1,793.9 874.4,793.3 875.8,792.6 877.1,791.9 878.5,791.2 879.8,790.5 881.1,789.9 882.5,789.2 883.9,788.6 885.2,788.0 886.6,787.4 888.0,786.8 889.4,786.2 890.8,785.7 892.2,785.2 893.7,784.8 895.1,784.5 896.6,784.2 898.1,784.0 899.6,783.7 901.1,783.5 902.5,783.2 904.0,783.0 905.5,782.7 907.0,782.5" stroke="#ff0000" stroke-dasharray="8 4"/>
<polyline points="152.0,820.0 153.5,820.0 155.0,820.0 156.5,820.0 158.0,820.0 159.5,820.0 161.1,820.0 162.6,820.0 164.1,820.0 165.6,820.0 167.1,820.0 168.6,820.0 170.1,820.0 171.6,820.0 173.1,820.0 174.6,820.0 176.1,820.0 177.6,820.0 179.1,820.0 180.6,820.0 182.1,820.0 183.6,820.0 185.1,820.0 186.6,820.0 188.1,820.0 189.6,820.0 191.1,820.0 192.6,820.0 194.1,820.0 195.6,820.0 197.1,820.0 198.6,820.0 200.1,820.0 201.6,819.9 203.1,819.8 204.6,819.7 206.1,819.5 207.6,819.3 209.1,819.1 210.6,819.0 212.1,818.8 213.6,818.7 215.1,818.6 216.6,818.5 218.1,818.4 219.6,818.3 221.1,818.3 222.6,818.2 224.1,818.1 225.6,818.0 227.1,817.9 228.6,817.8 230.1,817.7 231.6,817.7 233.1,817.6 234.6,817.4 236.1,817.3 237.6,817.2 239.1,817.1 240.6,816.9 242.1,816.8 243.6,816.6 245.1,816.5 246.6,816.3 248.1,816.1 249.6,815.9 251.1,815.6 252.6,815.4 254.1,815.2 255.6,814.9 257.0,814.6 258.5,814.3 259.9,814.0 261.4,813.7 262.8,813.3 264.2,812.8 265.7,812.4 267.1,811.8 268.5,811.3 269.9,810.7 271.3,810.1 272.7,809.5 274.1,808.8 275.4,808.2 276.8,807.5 278.2,806.9 279.5,806.2 280.8,805.6 282.2,804.9 283.5,804.2 284.8,803.5 286.1,802.7 287.4,802.0 288.7,801.2 290.0,800.4 291.3,799.6 292.6,798.8 293.8,798.0 295.1,797.2 296.4,796.4 297.6,795.5 298.9,794.7 300.2,793.9 301.4,793.1 302.7,792.3 304.0,791.5 305.2,790.6 306.5,789.8 307.8,789.0 309.0,788.1 310.3,787.3 311.6,786.5 312.8,785.6 314.0,784.7 315.2,783.8 316.4,782.9 317.6,782.0 318.7,781.1 319.9,780.1 321.0,779.1 322.1,778.1 323.2,777.1 324.2,776.1 325.3,775.0 326.4,773.9 327.4,772.8 328.4,771.7 329.4,770.6 330.5,769.5 331.5,768.4 332.4,767.2 333.4,766.1 334.4,764.9 335.4,763.7 336.3,762.6 337.3,761.4 338.2,760.2 339.2,759.0 340.1,757.9 341.0,756.7 342.0,755.5 342.9,754.3 343.9,753.1 344.8,751.9 345.7,750.7 346.6,749.5 347.4,748.2 348.2,747.0 349.0,745.7 349.8,744.4 350.5,743.1 351.1,741.8 351.8,740.5 352.4,739.1 353.0,737.7 353.6,736.4 354.2,735.0 354.8,733.6 355.3,732.2 355.9,730.8 356.4,729.3 357.0,727.9 357.5,726.5 358.0,725.1 358.6,723.7 359.1,722.3 359.7,720.9 360.2,719.5 360.8,718.1 361.3,716.7 361.9,715.3 362.4,713.9 363.0,712.5 363.5,711.1 364.1,709.7 364.6,708.3 365.2,706.9 365.7,705.5 366.2,704.0 366.8,702.6 367.3,701.2 367.8,699.8 368.4,698.4 368.9,697.0 369.4,695.6 369.9,694.2 370.4,692.8 371.0,691.4 371.5,690.0 372.0,688.5 372.5,687.1 373.0,685.7 373.5,684.3 374.0,682.9 374.5,681.5 375.0,680.0 375.5,678.6 376.0,677.2 376.5,675.8 377.0,674.4 377.5,673.0 378.0,671.5 378.5,670.1 379.0,668.7 379.5,667.3 380.0,665.9 380.6,664.5 381.1,663.0 381.6,661.6 382.1,660.2 382.7,658.8 383.2,657.4 383.7,656.0 384.3,654.6 384.8,653.2 385.3,651.8 385.9,650.4 386.4,648.9 386.9,647.5 387.4,646.1 387.9,644.7 388.4,643.3 388.8,641.8 389.3,640.4 389.7,639.0 390.1,637.5 390.5,636.1 390.9,634.6 391.2,633.2 391.6,631.7 391.9,630.2 392.3,628.8 392.7,627.3 393.1,625.9 393.5,624.4 394.0,623.0 394.4,621.5 394.8,620.1 395.2,618.7 395.7,617.2 396.1,615.8 396.6,614.4 397.0,612.9 397.5,611.5 398.0,610.1 398.5,608.6 398.9,607.2 399.4,605.8 399.9,604.4 400.4,602.9 400.9,601.5 401.5,600.1 402.0,598.7 402.6,597.3 403.1,595.9 403.7,594.6 404.4,593.2 405.0,591.8 405.7,590.5 406.3,589.1 407.0,587.7 407.8,586.4 408.5,585.1 409.3,583.8 410.1,582.5 411.0,581.3 411.9,580.1 412.8,579.0 413.8,577.9 414.9,576.8 416.1,575.7 417.3,574.7 418.5,573.9 419.7,573.1 421.1,572.5 422.5,571.8 423.9,571.3 425.4,571.0 426.9,571.0 428.4,571.3 429.9,571.7 431.4,572.3 432.7,572.9 433.9,573.5 435.0,574.4 436.0,575.5 437.0,576.7 438.0,578.0 438.9,579.3 439.7,580.6 440.6,581.8 441.3,583.1 442.1,584.4 442.8,585.8 443.5,587.1 444.2,588.4 444.9,589.8 445.6,591.1 446.3,592.4 447.0,593.8 447.6,595.1 448.3,596.5 449.0,597.8 449.6,599.2 450.3,600.5 450.9,601.9 451.6,603.3 452.2,604.6 452.8,606.0 453.4,607.4 453.9,608.8 454.4,610.2 454.9,611.6 455.3,613.1 455.7,614.5 456.1,616.0 456.5,617.4 457.0,618.9 457.5,620.3 458.0,621.7 458.6,623.1 459.2,624.5 459.8,625.9 460.3,627.2 460.9,628.6 461.4,630.1 461.9,631.5 462.3,632.9 462.8,634.3 463.3,635.8 463.7,637.2 464.2,638.6 464.7,640.0 465.2,641.5 465.7,642.9 466.2,644.3 466.7,645.7 467.2,647.1 467.7,648.6 468.2,650.0 468.8,651.4 469.3,652.8 469.9,654.2 470.4,655.6 471.0,657.0 471.5,658.4 472.1,659.8 472.6,661.2 473.2,662.6 473.7,664.0 474.3,665.4 474.8,666.8 475.4,668.2 475.9,669.6 476.5,671.0 477.0,672.4 477.6,673.8 478.1,675.2 478.7,676.6 479.2,678.0 479.8,679.4 480.3,680.8 480.8,682.2 481.4,683.6 481.9,685.0 482.4,686.4 482.9,687.8 483.4,689.3 483.9,690.7 484.4,692.1 485.0,693.5 485.5,694.9 486.0,696.3 486.5,697.7 487.1,699.1 487.6,700.5 488.2,701.9 488.8,703.3 489.4,704.7 490.0,706.0 490.7,707.4 491.3,708.7 492.0,710.1 492.7,711.4 493.4,712.7 494.2,714.0 494.9,715.3 495.7,716.6 496.4,717.9 497.2,719.2 498.0,720.5 498.7,721.8 499.5,723.1 500.3,724.4 501.0,725.7 501.7,727.1 502.5,728.4 503.2,729.8 504.0,731.1 504.7,732.4 505.5,733.7 506.3,735.0 507.1,736.3 508.0,737.5 508.9,738.7 509.8,739.8 510.8,740.8 511.8,741.9 512.9,743.0 514.1,744.0 515.3,745.0 516.5,746.0 517.8,746.8 519.1,747.5 520.4,748.2 521.7,748.7 523.1,749.1 524.6,749.6 526.1,749.9 527.5,750.3 529.0,750.7 530.5,751.1 531.9,751.6 533.4,752.0 534.8,752.4 536.2,752.9 537.7,753.3 539.1,753.7 540.6,754.2 542.0,754.6 543.4,755.0 544.9,755.4 546.3,755.8 547.8,756.3 549.2,756.7 550.6,757.2 552.0,757.7 553.4,758.3 554.8,758.8 556.2,759.4 557.6,760.0 559.0,760.6 560.4,761.2 561.8,761.8 563.1,762.4 564.5,763.1 565.8,763.7 567.2,764.4 568.5,765.1 569.8,765.9 571.1,766.7 572.3,767.5 573.6,768.3 574.8,769.2 576.0,770.1 577.3,770.9 578.5,771.9 579.7,772.8 580.9,773.7 582.1,774.6 583.2,775.5 584.4,776.5 585.5,777.5 586.7,778.4 587.9,779.4 589.1,780.3 590.3,781.2 591.5,782.1 592.7,783.0 593.9,783.8 595.1,784.7 596.4,785.6 597.6,786.4 598.9,787.3 600.1,788.1 601.4,788.9 602.6,789.8 603.9,790.6 605.2,791.4 606.5,792.2 607.8,793.0 609.1,793.6 610.5,794.2 611.9,794.7 613.3,795.2 614.7,795.7 616.2,796.2 617.6,796.5 619.1,796.9 620.6,797.1 622.1,797.3 623.6,797.5 625.1,797.7 626.6,797.8 628.1,797.9 629.6,798.0 631.1,797.9 632.5,797.7 634.0,797.4 635.5,797.1 637.0,796.8 638.5,796.6 640.0,796.3 641.4,796.0 642.9,795.8 644.4,795.5 645.9,795.2 647.4,794.9 648.8,794.7 650.3,794.4 651.8,794.0 653.2,793.7 654.7,793.3 656.2,792.9 657.6,792.5 659.1,792.1 660.5,791.7 662.0,791.2 663.4,790.9 664.9,790.5 666.3,790.2 667.8,790.0 669.3,789.8 670.8,789.7 672.3,789.5 673.8,789.4 675.3,789.2 676.8,789.1 678.3,789.1 679.8,789.0 681.3,789.0 682.8,789.1 684.3,789.3 685.8,789.5 687.2,789.9 688.7,790.2 690.2,790.6 691.7,790.9 693.1,791.3 694.6,791.6 696.1,792.0 697.5,792.4 699.0,792.8 700.4,793.2 701.8,793.6 703.3,794.1 704.7,794.6 706.1,795.1 707.5,795.7 708.9,796.3 710.3,796.9 711.7,797.5 713.1,798.0 714.5,798.5 715.9,799.0 717.3,799.4 718.8,799.8 720.2,800.2 721.7,800.6 723.2,800.9 724.6,801.2 726.1,801.5 727.6,801.8 729.1,802.0 730.6,802.2 732.1,802.4 733.6,802.6 735.1,802.7 736.6,802.9 738.1,803.0 739.6,803.0 741.1,803.0 742.6,802.9 744.1,802.7 745.6,802.5 747.0,802.2 748.5,802.0 750.0,801.7 751.5,801.4 753.0,801.1 754.4,800.8 755.9,800.4 757.3,800.0 758.8,799.6 760.2,799.2 761.7,798.7 763.1,798.3 764.5,797.8 766.0,797.4 767.4,796.9 768.8,796.4 770.2,795.9 771.7,795.4 773.1,794.9 774.5,794.4 775.9,793.9 777.4,793.5 778.8,793.1 780.3,792.7 781.7,792.4 783.2,792.0 784.7,791.7 786.2,791.5 787.6,791.2 789.1,791.0 790.6,790.7 792.1,790.5 793.6,790.3 795.1,790.1 796.6,789.9 798.1,789.8 799.6,789.7 801.1,789.7 802.6,789.8 804.1,790.0 805.6,790.2 807.1,790.5 808.5,790.7 810.0,791.0 811.5,791.3 812.9,791.7 814.4,792.1 815.8,792.5 817.3,792.9 818.7,793.4 820.1,793.9 821.5,794.4 823.0,794.9 824.4,795.5 825.7,796.1 827.1,796.7 828.5,797.3 829.9,797.9 831.2,798.5 832.6,799.2 833.9,799.8 835.3,800.5 836.6,801.2 837.9,802.0 839.2,802.7 840.5,803.5 841.7,804.4 843.0,805.2 844.3,806.0 845.6,806.8 846.9,807.5 848.3,808.1 849.6,808.7 851.0,809.3 852.4,809.9 853.8,810.4 855.2,810.9 856.7,811.4 858.1,811.9 859.5,812.3 861.0,812.7 862.4,813.1 863.9,813.5 865.3,814.0 866.8,814.4 868.2,814.8 869.7,815.1 871.2,815.4 872.6,815.7 874.1,816.0 875.6,816.2 877.1,816.4 878.6,816.6 880.1,816.8 881.6,817.0 883.1,817.1 884.6,817.3 886.1,817.4 887.6,817.5 889.0,817.6 890.5,817.8 892.0,817.9 893.5,818.1 895.0,818.2 896.5,818.4 898.0,818.5 899.5,818.7 901.0,818.8 902.5,819.0 904.0,819.2 905.5,819.3 907.0,819.5" stroke="#00cd00" stroke-dasharray="8 4"/>
<polyline points="152.0,820.0 153.5,820.0 155.0,820.0 156.5,820.0 158.1,820.0 159.6,820.0 161.1,820.0 162.6,820.0 164.1,820.0 165.6,820.0 167.1,820.0 168.6,820.0 170.2,820.0 171.7,820.0 173.2,820.0 174.7,820.0 176.2,820.0 177.7,820.0 179.2,820.0 180.7,820.0 182.2,820.0 183.8,820.0 185.3,820.0 186.8,820.0 188.3,820.0 189.8,820.0 191.3,820.0 192.8,820.0 194.3,820.0 195.8,820.0 197.3,820.0 198.9,820.0 200.4,820.0 201.9,820.0 203.4,820.0 204.9,820.0 206.4,820.0 207.9,820.0 209.4,820.0 210.9,820.0 212.4,820.0 213.9,820.0 215.4,820.0 217.0,820.0 218.5,820.0 220.0,820.0 221.5,820.0 223.0,820.0 224.5,820.0 226.0,820.0 227.5,820.0 229.0,820.0 230.5,820.0 232.0,820.0 233.5,820.0 235.0,820.0 236.5,820.0 238.0,820.0 239.6,820.0 241.1,820.0 242.6,820.0 244.1,820.0 245.6,820.0 247.1,820.0 248.6,820.0 250.1,820.0 251.6,820.0 253.1,820.0 254.6,820.0 256.1,820.0 257.6,820.0 259.1,820.0 260.6,820.0 262.1,820.0 263.6,820.0 265.1,820.0 266.6,820.0 268.1,820.0 269.6,820.0 271.2,820.0 272.7,820.0 274.2,820.0 275.7,820.0 277.2,820.0 278.7,820.0 280.2,820.0 281.7,820.0 283.2,820.0 284.7,820.0 286.2,820.0 287.7,820.0 289.2,820.0 290.7,820.0 292.2,820.0 293.7,820.0 295.2,820.0 296.7,820.0 298.2,820.0 299.7,820.0 301.2,820.0 302.7,820.0 304.2,820.0 305.7,820.0 307.2,820.0 308.7,820.0 310.2,820.0 311.7,820.0 313.2,820.0 314.7,820.0 316.2,820.0 317.7,820.0 319.2,820.0 320.7,820.0 322.2,820.0 323.7,820.0 325.2,820.0 326.7,820.0 328.2,820.0 329.7,820.0 331.2,820.0 332.7,820.0 334.2,820.0 335.7,820.0 337.2,820.0 338.7,820.0 340.2,820.0 341.7,820.0 343.2,820.0 344.7,820.0 346.2,820.0 347.7,820.0 349.2,820.0 350.7,820.0 352.2,820.0 353.7,820.0 355.2,820.0 356.7,820.0 358.2,820.0 359.7,820.0 361.2,820.0 362.7,820.0 364.2,820.0 365.7,820.0 367.2,820.0 368.7,820.0 370.2,820.0 371.7,820.0 373.2,820.0 374.7,820.0 376.2,820.0 377.7,820.0 379.2,820.0 380.7,820.0 382.2,820.0 383.7,820.0 385.2,820.0 386.7,820.0 388.1,820.0 389.6,820.0 391.1,820.0 392.6,820.0 394.1,820.0 395.6,820.0 397.1,820.0 398.6,820.0 400.1,820.0 401.6,820.0 403.1,820.0 404.6,820.0 406.1,820.0 407.6,820.0 409.1,820.0 410.6,820.0 412.1,820.0 413.6,820.0 415.1,820.0 416.6,820.0 418.1,820.0 419.6,820.0 421.1,820.0 422.6,820.0 424.1,820.0 425.6,820.0 427.0,820.0 428.5,820.0 430.0,820.0 431.5,820.0 433.0,820.0 434.5,820.0 436.0,820.0 437.5,820.0 439.0,820.0 440.5,820.0 442.0,820.0 443.5,820.0 445.0,820.0 446.5,820.0 448.0,820.0 449.5,820.0 451.0,820.0 452.5,820.0 454.0,820.0 455.5,820.0 456.9,820.0 458.4,820.0 459.9,820.0 461.4,820.0 462.9,820.0 464.4,820.0 466.0,819.9 467.5,819.6 468.8,819.2 470.0,818.2 471.0,817.0 471.9,815.8 472.6,814.5 473.3,813.1 474.0,811.8 474.7,810.5 475.4,809.2 476.1,807.8 476.8,806.5 477.5,805.2 478.2,803.8 478.8,802.4 479.3,801.1 479.8,799.7 480.3,798.2 480.7,796.8 481.1,795.3 481.5,793.9 481.9,792.4 482.3,791.0 482.6,789.5 483.0,788.0 483.4,786.6 483.7,785.1 484.1,783.6 484.4,782.2 484.7,780.7 485.1,779.2 485.4,777.8 485.6,776.3 485.9,774.8 486.1,773.3 486.3,771.9 486.5,770.4 486.6,768.9 486.8,767.4 486.9,765.9 487.1,764.4 487.2,762.9 487.4,761.4 487.5,759.9 487.7,758.4 487.8,756.9 488.0,755.4 488.1,753.9 488.3,752.4 488.5,750.9 488.6,749.4 488.8,747.9 488.9,746.4 489.1,745.0 489.3,743.5 489.5,742.0 489.7,740.5 489.9,739.0 490.1,737.5 490.2,736.0 490.4,734.5 490.6,733.0 490.8,731.5 491.0,730.1 491.2,728.6 491.4,727.1 491.5,725.6 491.7,724.1 491.9,722.6 492.0,721.1 492.2,719.6 492.3,718.1 492.5,716.6 492.6,715.1 492.8,713.6 492.9,712.1 493.1,710.6 493.2,709.1 493.4,707.6 493.5,706.2 493.6,704.7 493.8,703.2 493.9,701.7 494.1,700.2 494.2,698.7 494.3,697.2 494.5,695.7 494.6,694.2 494.7,692.7 494.9,691.2 495.0,689.7 495.2,688.2 495.3,686.7 495.5,685.2 495.6,683.7 495.8,682.2 495.9,680.7 496.1,679.2 496.3,677.7 496.4,676.3 496.6,674.8 496.7,673.3 496.8,671.8 497.0,670.3 497.1,668.8 497.2,667.3 497.4,665.8 497.5,664.3 497.6,662.8 497.7,661.3 497.9,659.8 498.0,658.3 498.1,656.8 498.2,655.3 498.3,653.8 498.4,652.3 498.5,650.8 498.7,649.3 498.8,647.8 498.9,646.3 499.0,644.8 499.1,643.3 499.2,641.8 499.3,640.3 499.4,638.8 499.5,637.3 499.6,635.8 499.7,634.3 499.8,632.8 499.9,631.3 500.0,629.8 500.1,628.3 500.3,626.8 500.4,625.3 500.6,623.9 500.8,622.4 500.9,620.9 501.1,619.4 501.2,617.9 501.4,616.4 501.5,614.9 501.6,613.4 501.8,611.9 501.9,610.4 502.0,608.9 502.1,607.4 502.2,605.9 502.4,604.4 502.5,602.9 502.7,601.4 502.8,599.9 503.0,598.4 503.2,596.9 503.4,595.5 503.6,594.0 503.8,592.5 503.9,591.0 504.0,589.5 504.2,588.0 504.3,586.5 504.4,585.0 504.5,583.5 504.6,582.0 504.7,580.5 504.7,579.0 504.8,577.5 504.9,576.0 505.0,574.5 505.1,573.0 505.2,571.5 505.3,570.0 505.4,568.5 505.5,567.0 505.6,565.5 505.7,564.0 505.8,562.5 505.9,561.0 506.0,559.5 506.2,558.0 506.3,556.5 506.5,555.0 506.6,553.5 506.8,552.0 506.9,550.5 507.1,549.1 507.3,547.6 507.5,546.1 507.7,544.6 507.8,543.1 508.0,541.6 508.2,540.1 508.4,538.6 508.6,537.1 508.8,535.6 508.9,534.1 509.1,532.6 509.3,531.2 509.4,529.7 509.6,528.2 509.7,526.7 509.9,525.2 510.0,523.7 510.2,522.2 510.3,520.7 510.5,519.2 510.6,517.7 510.8,516.2 510.9,514.7 511.1,513.2 511.2,511.7 511.4,510.2 511.5,508.7 511.6,507.2 511.8,505.7 512.0,504.2 512.1,502.8 512.3,501.3 512.4,499.8 512.6,498.3 512.8,496.8 512.9,495.3 513.1,493.8 513.3,492.3 513.4,490.8 513.6,489.3 513.8,487.8 513.9,486.3 514.1,484.8 514.3,483.3 514.5,481.9 514.7,480.4 514.9,478.9 515.0,477.4 515.2,475.9 515.4,474.4 515.6,472.9 515.8,471.4 516.0,469.9 516.2,468.5 516.4,467.0 516.6,465.5 516.9,464.0 517.1,462.5 517.3,461.0 517.5,459.5 517.8,458.1 518.0,456.6 518.2,455.1 518.5,453.6 518.7,452.1 518.9,450.6 519.1,449.1 519.4,447.7 519.6,446.2 519.8,444.7 520.0,443.2 520.3,441.7 520.5,440.2 520.7,438.7 520.9,437.3 521.2,435.8 521.4,434.3 521.6,432.8 521.8,431.3 522.0,429.8 522.2,428.3 522.4,426.9 522.6,425.4 522.8,423.9 523.0,422.4 523.2,420.9 523.4,419.4 523.6,417.9 523.8,416.4 523.9,414.9 524.1,413.4 524.3,412.0 524.5,410.5 524.7,409.0 524.8,407.5 525.0,406.0 525.2,404.5 525.4,403.0 525.6,401.5 525.7,400.0 525.9,398.5 526.1,397.0 526.3,395.6 526.5,394.1 526.7,392.6 526.9,391.1 527.1,389.6 527.2,388.1 527.4,386.6 527.6,385.1 527.9,383.6 528.1,382.1 528.3,380.7 528.5,379.2 528.7,377.7 528.9,376.2 529.1,374.7 529.3,373.2 529.5,371.7 529.7,370.2 529.9,368.8 530.1,367.3 530.3,365.8 530.5,364.3 530.7,362.8 530.8,361.3 531.0,359.8 531.2,358.3 531.4,356.8 531.5,355.3 531.7,353.8 531.8,352.3 532.0,350.9 532.1,349.4 532.3,347.9 532.4,346.4 532.6,344.9 532.7,343.4 532.9,341.9 533.0,340.4 533.1,338.9 533.3,337.4 533.4,335.9 533.6,334.4 533.7,332.9 533.9,331.4 534.0,329.9 534.2,328.4 534.3,326.9 534.5,325.4 534.6,323.9 534.8,322.4 534.9,321.0 535.1,319.5 535.2,318.0 535.4,316.5 535.5,315.0 535.7,313.5 535.8,312.0 536.0,310.5 536.1,309.0 536.2,307.5 536.4,306.0 536.5,304.5 536.7,303.0 536.8,301.5 537.0,300.0 537.1,298.5 537.3,297.0 537.4,295.5 537.6,294.1 537.7,292.6 537.9,291.1 538.0,289.6 538.2,288.1 538.3,286.6 538.5,285.1 538.6,283.6 538.8,282.1 538.9,280.6 539.1,279.1 539.2,277.6 539.4,276.1 539.5,274.6 539.7,273.1 539.8,271.6 540.0,270.1 540.1,268.6 540.3,267.1 540.4,265.7 540.6,264.2 540.7,262.7 540.9,261.2 541.0,259.7 541.2,258.2 541.3,256.7 541.5,255.2 541.6,253.7 541.8,252.2 541.9,250.7 542.1,249.2 542.2,247.7 542.4,246.2 542.6,244.7 542.7,243.2 542.9,241.7 543.0,240.3 543.2,238.8 543.4,237.3 543.6,235.8 543.8,234.3 544.0,232.8 544.2,231.3 544.4,229.8 544.6,228.3 544.8,226.8 545.0,225.4 545.1,223.9 545.3,222.4 545.4,220.9 545.5,219.4 545.6,217.9 545.8,216.4 545.9,214.9 546.1,213.4 546.2,211.9 546.4,210.4 546.7,208.9 546.9,207.4 547.1,206.0 547.3,204.5 547.5,203.0 547.7,201.5 547.9,200.0 548.1,198.5 548.2,197.0 548.4,195.5 548.7,194.0 548.9,192.5 549.2,191.1 549.6,189.6 550.1,188.2 550.5,186.8 550.9,185.3 551.2,183.8 551.5,182.2 551.7,180.8 552.3,179.5 553.5,178.3 554.8,177.5 555.8,177.9 556.7,179.1 557.5,180.8 558.1,182.2 558.5,183.6 558.9,185.1 559.2,186.6 559.5,188.1 559.8,189.6 560.0,191.1 560.2,192.5 560.5,194.0 560.7,195.5 560.9,197.0 561.0,198.5 561.2,200.0 561.4,201.5 561.6,203.0 561.9,204.5 562.1,205.9 562.4,207.4 562.6,208.9 562.8,210.4 563.0,211.9 563.1,213.4 563.3,214.9 563.4,216.4 563.5,217.9 563.6,219.4 563.7,220.9 563.8,222.4 563.9,223.9 564.0,225.4 564.2,226.9 564.3,228.4 564.5,229.8 564.6,231.3 564.8,232.8 564.9,234.3 565.1,235.8 565.2,237.3 565.4,238.8 565.6,240.3 565.8,241.8 565.9,243.3 566.1,244.8 566.2,246.3 566.4,247.8 566.5,249.3 566.6,250.8 566.8,252.3 566.9,253.8 567.0,255.2 567.1,256.7 567.3,258.2 567.4,259.7 567.5,261.2 567.6,262.7 567.7,264.2 567.9,265.7 568.0,267.2 568.1,268.7 568.2,270.2 568.3,271.7 568.4,273.2 568.5,274.7 568.6,276.2 568.7,277.7 568.8,279.2 568.9,280.7 569.0,282.2 569.1,283.7 569.1,285.2 569.2,286.7 569.3,288.2 569.4,289.7 569.5,291.2 569.5,292.7 569.6,294.2 569.7,295.7 569.7,297.2 569.8,298.7 569.9,300.2 569.9,301.7 570.0,303.2 570.0,304.7 570.1,306.2 570.1,307.7 570.2,309.2 570.3,310.7 570.3,312.2 570.4,313.7 570.5,315.2 570.5,316.7 570.6,318.2 570.7,319.7 570.8,321.2 570.9,322.7 571.0,324.2 571.1,325.7 571.2,327.2 571.3,328.7 571.4,330.2 571.5,331.7 571.6,333.2 571.7,334.7 571.8,336.2 571.8,337.7 571.9,339.2 572.0,340.7 572.1,342.2 572.2,343.7 572.2,345.2 572.3,346.7 572.4,348.2 572.5,349.7 572.5,351.2 572.6,352.7 572.7,354.2 572.7,355.7 572.8,357.2 572.9,358.7 573.0,360.2 573.0,361.7 573.1,363.2 573.2,364.7 573.2,366.2 573.3,367.7 573.4,369.2 573.4,370.7 573.5,372.2 573.6,373.7 573.6,375.2 573.7,376.7 573.7,378.2 573.8,379.7 573.9,381.2 573.9,382.7 574.0,384.2 574.0,385.7 574.1,387.2 574.2,388.7 574.2,390.2 574.3,391.7 574.3,393.2 574.4,394.7 574.4,396.2 574.5,397.7 574.6,399.2 574.6,400.7 574.7,402.2 574.7,403.7 574.8,405.2 574.9,406.7 574.9,408.2 575.0,409.7 575.1,411.2 575.1,412.7 575.2,414.2 575.3,415.7 575.3,417.2 575.4,418.7 575.5,420.2 575.6,421.7 575.6,423.2 575.7,424.7 575.8,426.2 575.9,427.7 575.9,429.2 576.0,430.7 576.1,432.2 576.2,433.8 576.2,435.3 576.3,436.8 576.4,438.3 576.5,439.8 576.6,441.3 576.6,442.8 576.7,444.3 576.8,445.8 576.9,447.3 576.9,448.8 577.0,450.3 577.1,451.8 577.2,453.3 577.2,454.8 577.3,456.3 577.4,457.8 577.5,459.3 577.6,460.8 577.6,462.3 577.7,463.8 577.8,465.3 577.9,466.8 578.0,468.3 578.0,469.8 578.1,471.3 578.2,472.8 578.3,474.3 578.3,475.8 578.4,477.3 578.5,478.8 578.6,480.3 578.6,481.8 578.7,483.3 578.8,484.8 578.8,486.3 578.9,487.8 579.0,489.3 579.0,490.8 579.1,492.3 579.1,493.8 579.2,495.3 579.3,496.8 579.3,498.3 579.4,499.8 579.4,501.3 579.5,502.8 579.5,504.3 579.6,505.8 579.6,507.3 579.7,508.8 579.7,510.3 579.7,511.8 579.8,513.3 579.8,514.8 579.9,516.3 579.9,517.8 580.0,519.3 580.0,520.8 580.1,522.3 580.2,523.8 580.2,525.3 580.3,526.8 580.3,528.3 580.4,529.8 580.5,531.3 580.5,532.8 580.6,534.3 580.7,535.8 580.8,537.3 580.8,538.8 580.9,540.3 581.0,541.8 581.1,543.3 581.2,544.8 581.3,546.3 581.3,547.8 581.4,549.3 581.5,550.8 581.6,552.3 581.7,553.8 581.8,555.3 581.9,556.8 582.0,558.3 582.1,559.8 582.1,561.3 582.2,562.8 582.3,564.3 582.4,565.8 582.5,567.3 582.5,568.8 582.6,570.3 582.7,571.8 582.7,573.3 582.8,574.8 582.9,576.3 582.9,577.8 583.0,579.3 583.0,580.8 583.1,582.3 583.1,583.8 583.2,585.3 583.3,586.8 583.3,588.3 583.4,589.8 583.4,591.3 583.5,592.8 583.5,594.3 583.6,595.8 583.6,597.3 583.7,598.8 583.8,600.3 583.8,601.8 583.9,603.3 584.0,604.8 584.1,606.3 584.2,607.8 584.3,609.3 584.4,610.8 584.5,612.3 584.6,613.8 584.7,615.3 584.8,616.8 584.9,618.3 585.0,619.8 585.1,621.3 585.2,622.8 585.2,624.3 585.3,625.8 585.4,627.3 585.5,628.8 585.5,630.3 585.6,631.8 585.7,633.3 585.7,634.8 585.8,636.3 585.9,637.8 586.0,639.3 586.0,640.8 586.1,642.3 586.2,643.8 586.3,645.3 586.3,646.8 586.4,648.3 586.5,649.8 586.5,651.3 586.6,652.8 586.7,654.3 586.8,655.8 586.8,657.3 586.9,658.8 587.0,660.3 587.1,661.8 587.2,663.3 587.3,664.8 587.4,666.3 587.5,667.8 587.6,669.3 587.7,670.8 587.8,672.3 587.9,673.8 588.0,675.3 588.1,676.8 588.2,678.3 588.3,679.8 588.4,681.3 588.5,682.8 588.6,684.3 588.7,685.8 588.8,687.3 588.9,688.8 589.0,690.3 589.1,691.8 589.2,693.3 589.2,694.8 589.3,696.3 589.4,697.8 589.5,699.3 589.6,700.8 589.7,702.3 589.8,703.8 589.9,705.3 590.1,706.7 590.3,708.2 590.4,709.7 590.6,711.2 590.8,712.7 590.9,714.2 591.1,715.7 591.2,717.2 591.4,718.7 591.6,720.2 591.7,721.7 591.9,723.2 592.1,724.7 592.3,726.2 592.4,727.6 592.6,729.1 592.8,730.6 593.0,732.1 593.1,733.6 593.3,735.1 593.5,736.6 593.6,738.1 593.8,739.6 593.9,741.1 594.1,742.6 594.2,744.1 594.3,745.6 594.4,747.1 594.6,748.6 594.7,750.1 594.8,751.6 594.9,753.1 595.0,754.6 595.1,756.1 595.2,757.6 595.4,759.1 595.5,760.6 595.6,762.0 595.7,763.5 595.9,765.0 596.1,766.5 596.2,768.0 596.4,769.5 596.6,771.0 596.8,772.5 597.0,774.0 597.3,775.5 597.5,776.9 597.7,778.4 598.0,779.9 598.2,781.4 598.5,782.9 598.7,784.4 599.0,785.8 599.2,787.3 599.5,788.8 599.7,790.3 600.0,791.8 600.2,793.3 600.5,794.7 600.8,796.2 601.0,797.7 601.4,799.2 601.7,800.6 602.0,802.1 602.4,803.5 602.8,805.0 603.1,806.5 603.6,808.0 604.0,809.5 604.6,810.9 605.1,812.3 605.7,813.6 606.5,814.8 607.5,816.0 608.6,817.1 609.8,817.9 611.1,818.4 612.5,818.8 614.0,819.2 615.5,819.6 617.1,819.8 618.6,820.0 620.1,820.0 621.6,820.0 623.1,820.0 624.6,820.0 626.0,820.0 627.5,820.0 629.0,820.0 630.5,820.0 632.0,820.0 633.5,820.0 634.9,820.0 636.4,820.0 637.9,820.0 639.4,820.0 640.9,820.0 642.4,820.0 643.8,820.0 645.3,820.0 646.8,820.0 648.3,820.0 649.8,820.0 651.3,820.0 652.8,820.0 654.2,820.0 655.7,820.0 657.2,820.0 658.7,820.0 660.2,820.0 661.7,820.0 663.2,820.0 664.6,820.0 666.1,820.0 667.6,820.0 669.1,820.0 670.6,820.0 672.1,820.0 673.6,820.0 675.1,820.0 676.5,820.0 678.0,820.0 679.5,820.0 681.0,820.0 682.5,820.0 684.0,820.0 685.5,820.0 687.0,820.0 688.5,820.0 689.9,820.0 691.4,820.0 692.9,820.0 694.4,820.0 695.9,820.0 697.4,820.0 698.9,820.0 700.4,820.0 701.9,820.0 703.4,820.0 704.9,820.0 706.3,820.0 707.8,820.0 709.3,820.0 710.8,820.0 712.3,820.0 713.8,820.0 715.3,820.0 716.8,820.0 718.3,820.0 719.8,820.0 721.3,820.0 722.8,820.0 724.3,820.0 725.7,820.0 727.2,820.0 728.7,820.0 730.2,820.0 731.7,820.0 733.2,820.0 734.7,820.0 736.2,820.0 737.7,820.0 739.2,820.0 740.7,820.0 742.2,820.0 743.7,820.0 745.2,820.0 746.7,820.0 748.2,820.0 749.7,820.0 751.2,820.0 752.7,820.0 754.2,820.0 755.7,820.0 757.2,820.0 758.7,820.0 760.2,820.0 761.7,820.0 763.2,820.0 764.7,820.0 766.2,820.0 767.7,820.0 769.2,820.0 770.7,820.0 772.2,820.0 773.7,820.0 775.2,820.0 776.7,820.0 778.2,820.0 779.7,820.0 781.2,820.0 782.7,820.0 784.2,820.0 785.7,820.0 787.2,820.0 788.7,820.0 790.2,820.0 791.7,820.0 793.2,820.0 794.7,820.0 796.2,820.0 797.7,820.0 799.2,820.0 800.8,820.0 802.3,820.0 803.8,820.0 805.3,820.0 806.8,820.0 808.3,820.0 809.8,820.0 811.3,820.0 812.8,820.0 814.3,820.0 815.8,820.0 817.3,820.0 818.9,820.0 820.4,820.0 821.9,820.0 823.4,820.0 824.9,820.0 826.4,820.0 827.9,820.0 829.4,820.0 830.9,820.0 832.5,820.0 834.0,820.0 835.5,820.0 837.0,820.0 838.5,820.0 840.0,820.0 841.5,820.0 843.1,820.0 844.6,820.0 846.1,820.0 847.6,820.0 849.1,820.0 850.6,820.0 852.2,820.0 853.7,820.0 855.2,820.0 856.7,820.0 858.2,820.0 859.7,820.0 861.3,820.0 862.8,820.0 864.3,820.0 865.8,820.0 867.3,820.0 868.9,820.0 870.4,820.0 871.9,820.0 873.4,820.0 874.9,820.0 876.5,820.0 878.0,820.0 879.5,820.0 881.0,820.0 882.6,820.0 884.1,820.0 885.6,820.0 887.1,820.0 888.7,820.0 890.2,820.0 891.7,820.0 893.2,820.0 894.8,820.0 896.3,820.0 897.8,820.0 899.4,820.0 900.9,820.0 902.4,820.0 903.9,820.0 905.5,820.0 907.0,820.0" stroke="#0000ff" stroke-dasharray="8 4"/>
</g>
<g fill="none" stroke="#000" stroke-width="2" shape-rendering="crispEdges" stroke-linecap="butt">
<rect x="122" y="123" width="815" height="724"/>
<line x1="222" y1="847" x2="222" y2="863"/>
<line x1="431" y1="847" x2="431" y2="863"/>
<line x1="640" y1="847" x2="640" y2="863"/>
<line x1="849" y1="847" x2="849" y2="863"/>
<line x1="106" y1="820" x2="122" y2="820"/>
<line x1="106" y1="720" x2="122" y2="720"/>
<line x1="106" y1="620" x2="122" y2="620"/>
<line x1="106" y1="520" x2="122" y2="520"/>
<line x1="106" y1="420" x2="122" y2="420"/>
<line x1="106" y1="320" x2="122" y2="320"/>
<line x1="106" y1="220" x2="122" y2="220"/>
</g>
<g fill="none" stroke-width="2" shape-rendering="crispEdges" stroke-linecap="butt">
<line x1="144" y1="153" x2="191" y2="153" stroke="#000000"/>
<line x1="144" y1="183" x2="191" y2="183" stroke="#ff0000"/>
<line x1="144" y1="213" x2="191" y2="213" stroke="#00cd00"/>
<line x1="144" y1="243" x2="191" y2="243" stroke="#0000ff"/>
<line x1="144" y1="273" x2="191" y2="273" stroke="#00ffff"/>
<line x1="144" y1="303" x2="191" y2="303" stroke="#ff00ff"/>
<line x1="144" y1="333" x2="191" y2="333" stroke="#ffff00"/>
<line x1="144" y1="363" x2="191" y2="363" stroke="#bebebe"/>
<line x1="144" y1="393" x2="188" y2="393" stroke="#ff0000" stroke-dasharray="8 4"/>
<line x1="144" y1="423" x2="188" y2="423" stroke="#00cd00" stroke-dasharray="8 4"/>
<line x1="144" y1="453" x2="188" y2="453" stroke="#0000ff" stroke-dasharray="8 4"/>
</g>
<g filter="url(#th)">
<text transform="translate(212.66,162) scale(0.9787,1.0)" font-size="25px">gene</text>
<text transform="translate(272.80,162) scale(0.9594,1.0)" font-size="25px">(sd=1.21)</text>
<text transform="translate(212.77,192) scale(0.9683,1.0)" font-size="25px">mRNA</text>
<text transform="translate(291.50,192) scale(0.9594,1.0)" font-size="25px">(sd=1.19)</text>
<text transform="translate(212.63,222) scale(1.0043,1.0)" font-size="25px">divergent</text>
<text transform="translate(322.70,222) scale(0.9594,1.0)" font-size="25px">(sd=1.05)</text>
<text transform="translate(213.44,252) scale(1.0026,1.0)" font-size="25px">XUT</text>
<text transform="translate(270.40,252) scale(0.9594,1.0)" font-size="25px">(sd=1.25)</text>
<text transform="translate(212.53,282) scale(1.0129,1.0)" font-size="25px">CUT</text>
<text transform="translate(271.50,282) scale(0.9594,1.0)" font-size="25px">(sd=1.12)</text>
<text transform="translate(213.39,312) scale(0.9832,1.0)" font-size="25px">SUT</text>
<text transform="translate(269.40,312) scale(0.9594,1.0)" font-size="25px">(sd=1.21)</text>
<text transform="translate(214.54,342) scale(0.9627,1.0)" font-size="25px">tRNA</text>
<text transform="translate(279.00,342) scale(0.9594,1.0)" font-size="25px">(sd=1.19)</text>
<text transform="translate(212.54,372) scale(0.9613,1.0)" font-size="25px">snoRNA</text>
<text transform="translate(310.20,372) scale(0.9594,1.0)" font-size="25px">(sd=0.75)</text>
<text transform="translate(212.76,402) scale(0.9701,1.0)" font-size="25px">rRNA</text>
<text transform="translate(279.50,402) scale(0.9594,1.0)" font-size="25px">(sd=3.22)</text>
<text transform="translate(212.75,432) scale(0.9763,1.0)" font-size="25px">ncRNA</text>
<text transform="translate(296.80,432) scale(0.9594,1.0)" font-size="25px">(sd=2.92)</text>
<text transform="translate(213.04,462) scale(0.9638,1.0)" font-size="25px">snRNA</text>
<text transform="translate(296.80,462) scale(0.9594,1.0)" font-size="25px">(sd=0.55)</text>
<text transform="translate(211.93,901) scale(0.9470,1.0)" font-size="25px">-5</text>
<text transform="translate(424.86,901) scale(0.9382,1.0)" font-size="25px">0</text>
<text transform="translate(633.84,901) scale(0.9600,1.0)" font-size="25px">5</text>
<text transform="translate(836.06,901) scale(0.9303,1.0)" font-size="25px">10</text>
<text transform="translate(478.94,961) scale(0.9848,1.0)" font-size="25px">log2 ratio</text>
<text transform="translate(87,835.91) rotate(-90) scale(0.9143,1)" font-size="25px">0.0</text>
<text transform="translate(87,735.92) rotate(-90) scale(0.9213,1)" font-size="25px">0.1</text>
<text transform="translate(87,635.92) rotate(-90) scale(0.9231,1)" font-size="25px">0.2</text>
<text transform="translate(87,535.92) rotate(-90) scale(0.9178,1)" font-size="25px">0.3</text>
<text transform="translate(87,435.91) rotate(-90) scale(0.9074,1)" font-size="25px">0.4</text>
<text transform="translate(87,335.92) rotate(-90) scale(0.9160,1)" font-size="25px">0.5</text>
<text transform="translate(87,235.92) rotate(-90) scale(0.9178,1)" font-size="25px">0.6</text>
<text transform="translate(26,525.47) rotate(-90) scale(1.0043,1)" font-size="25px">density</text>
<text transform="translate(331.67,72) scale(0.8126,1.0)" font-size="30px" font-weight="bold">number</text>
<text transform="translate(429.87,72) scale(0.8143,1.0)" font-size="30px" font-weight="bold">read</text>
<text transform="translate(489.37,72) scale(0.8170,1.0)" font-size="30px" font-weight="bold">ratio</text>
<text transform="translate(550.75,72) scale(0.7762,1.0)" font-size="30px" font-weight="bold">WT</text>
<text transform="translate(588.37,72) scale(0.6925,1.0)" font-size="30px" font-weight="bold">.</text>
<text transform="translate(595.90,72) scale(0.7222,1.0)" font-size="30px" font-weight="bold">G1</text>
<text transform="translate(626.99,72) scale(0.9806,1.0)" font-size="30px" font-weight="bold">/</text>
<text transform="translate(636.11,72) scale(0.7767,1.0)" font-size="30px" font-weight="bold">xrn1</text>
<text transform="translate(688.87,72) scale(0.6925,1.0)" font-size="30px" font-weight="bold">.</text>
<text transform="translate(695.35,72) scale(0.7618,1.0)" font-size="30px" font-weight="bold">G1</text>
</g>
</svg></body></html>
